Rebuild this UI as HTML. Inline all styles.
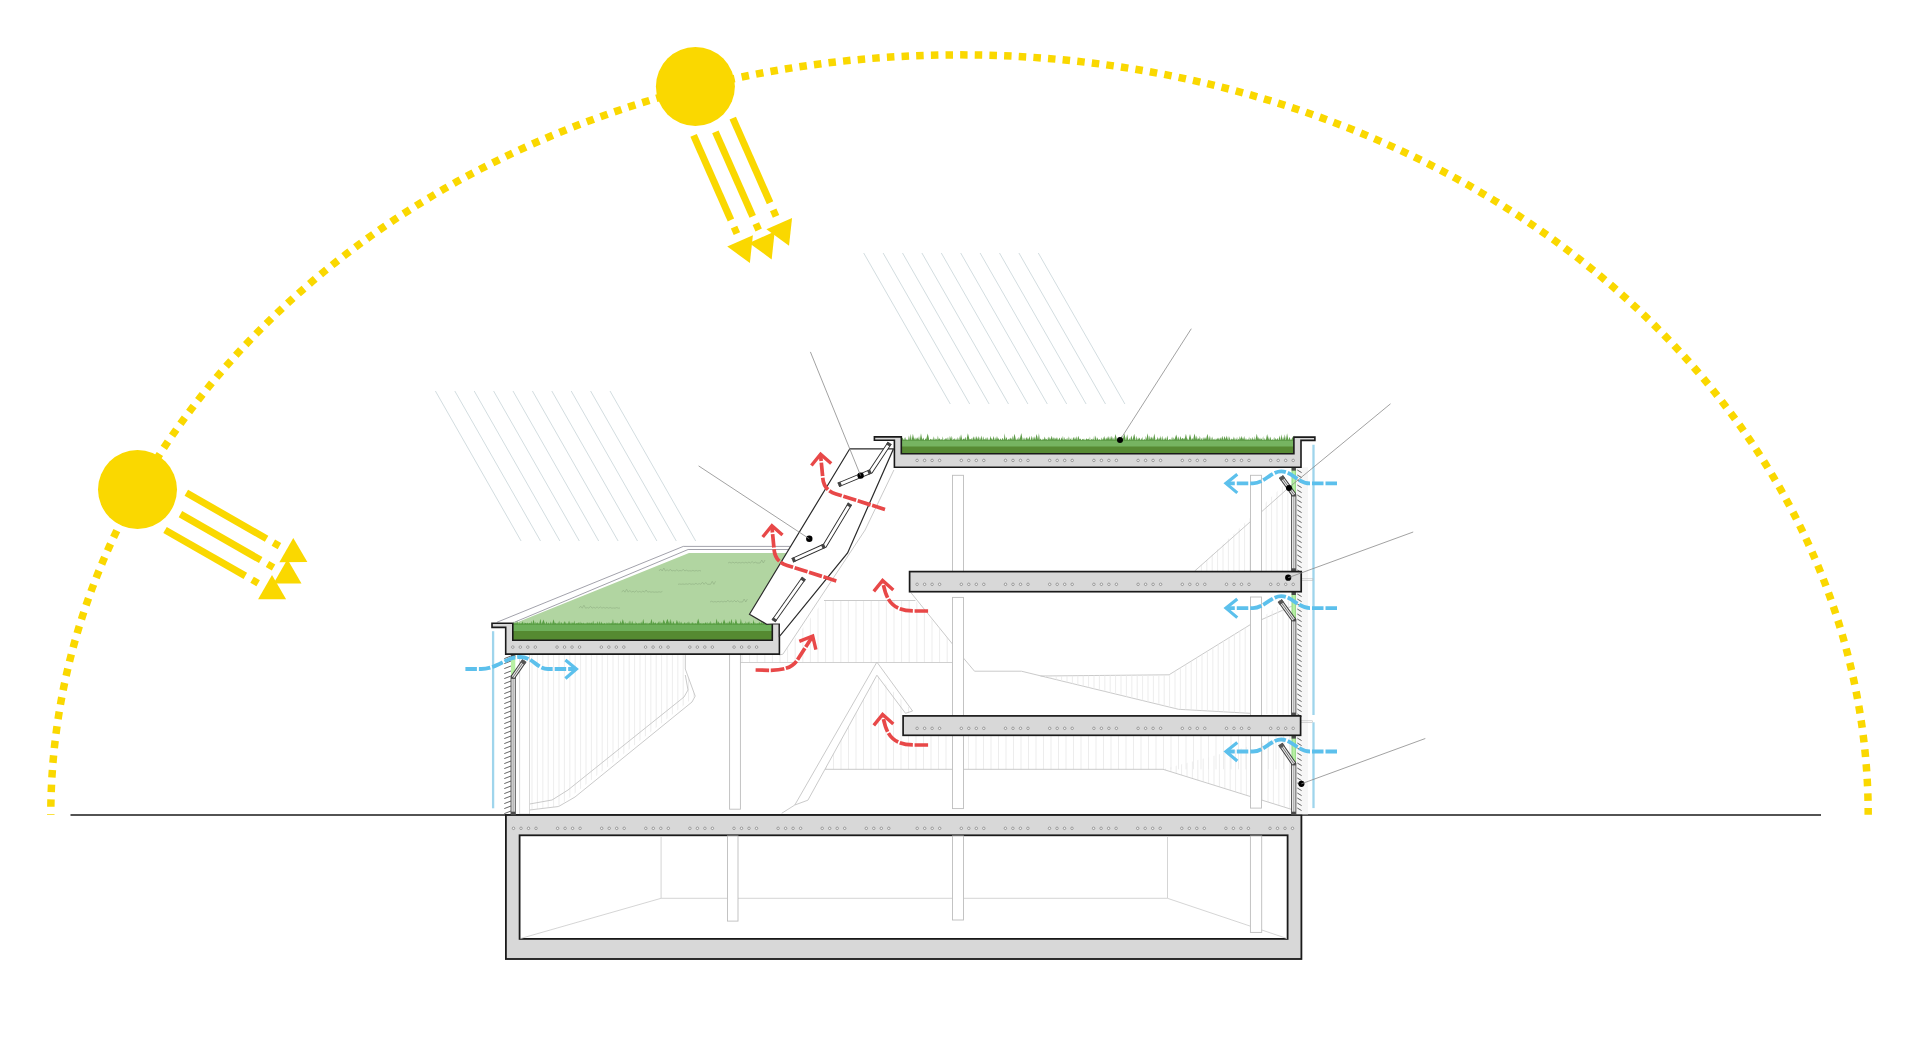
<!DOCTYPE html>
<html><head><meta charset="utf-8"><title>Section</title>
<style>html,body{margin:0;padding:0;background:#fff;overflow:hidden;font-family:"Liberation Sans",sans-serif;}svg{display:block;}</style>
</head><body>
<svg width="1920" height="1050" viewBox="0 0 1920 1050"><line x1="435.4" y1="391" x2="521.1" y2="541" stroke="#d3dde0" stroke-width="1"/>
<line x1="454.8" y1="391" x2="540.5" y2="541" stroke="#d3dde0" stroke-width="1"/>
<line x1="474.2" y1="391" x2="559.9" y2="541" stroke="#d3dde0" stroke-width="1"/>
<line x1="493.6" y1="391" x2="579.3" y2="541" stroke="#d3dde0" stroke-width="1"/>
<line x1="513" y1="391" x2="598.7" y2="541" stroke="#d3dde0" stroke-width="1"/>
<line x1="532.4" y1="391" x2="618.1" y2="541" stroke="#d3dde0" stroke-width="1"/>
<line x1="551.8" y1="391" x2="637.5" y2="541" stroke="#d3dde0" stroke-width="1"/>
<line x1="571.2" y1="391" x2="656.9" y2="541" stroke="#d3dde0" stroke-width="1"/>
<line x1="590.6" y1="391" x2="676.3" y2="541" stroke="#d3dde0" stroke-width="1"/>
<line x1="610" y1="391" x2="695.7" y2="541" stroke="#d3dde0" stroke-width="1"/>
<line x1="863.7" y1="253" x2="950.3" y2="404" stroke="#d3dde0" stroke-width="1"/>
<line x1="883.1" y1="253" x2="969.7" y2="404" stroke="#d3dde0" stroke-width="1"/>
<line x1="902.5" y1="253" x2="989.1" y2="404" stroke="#d3dde0" stroke-width="1"/>
<line x1="921.9" y1="253" x2="1008.5" y2="404" stroke="#d3dde0" stroke-width="1"/>
<line x1="941.3" y1="253" x2="1027.9" y2="404" stroke="#d3dde0" stroke-width="1"/>
<line x1="960.7" y1="253" x2="1047.3" y2="404" stroke="#d3dde0" stroke-width="1"/>
<line x1="980.1" y1="253" x2="1066.7" y2="404" stroke="#d3dde0" stroke-width="1"/>
<line x1="999.5" y1="253" x2="1086.1" y2="404" stroke="#d3dde0" stroke-width="1"/>
<line x1="1018.9" y1="253" x2="1105.5" y2="404" stroke="#d3dde0" stroke-width="1"/>
<line x1="1038.3" y1="253" x2="1124.9" y2="404" stroke="#d3dde0" stroke-width="1"/>
<path d="M 50.8 814.8 A 908.7 760.2 0 0 1 1868.2 814.8" fill="none" stroke="#FAD800" stroke-width="7.5" stroke-dasharray="7.5 7.169" stroke-dashoffset="-8.05"/>
<circle cx="695.4" cy="86.5" r="39.5" fill="#FAD800"/>
<g transform="translate(695.4 86.5) rotate(66.2)"><rect x="44" y="-24.9" width="92.5" height="7" fill="#FAD800"/><rect x="144.3" y="-24.9" width="7" height="7" fill="#FAD800"/><polygon points="183.5,-21.4 159.25,-35.4 159.25,-7.4" fill="#FAD800"/><rect x="49.5" y="-3.5" width="92.5" height="7" fill="#FAD800"/><rect x="149.8" y="-3.5" width="7" height="7" fill="#FAD800"/><polygon points="189,0 164.75,-14 164.75,14" fill="#FAD800"/><rect x="44" y="17.9" width="92.5" height="7" fill="#FAD800"/><rect x="144.3" y="17.9" width="7" height="7" fill="#FAD800"/><polygon points="183.5,21.4 159.25,7.4 159.25,35.4" fill="#FAD800"/></g>
<circle cx="137.5" cy="489.5" r="39.5" fill="#FAD800"/>
<g transform="translate(137.5 489.5) rotate(29.8)"><rect x="44" y="-24.9" width="92.5" height="7" fill="#FAD800"/><rect x="144.3" y="-24.9" width="7" height="7" fill="#FAD800"/><polygon points="183.5,-21.4 159.25,-35.4 159.25,-7.4" fill="#FAD800"/><rect x="49.5" y="-3.5" width="92.5" height="7" fill="#FAD800"/><rect x="149.8" y="-3.5" width="7" height="7" fill="#FAD800"/><polygon points="189,0 164.75,-14 164.75,14" fill="#FAD800"/><rect x="44" y="17.9" width="92.5" height="7" fill="#FAD800"/><rect x="144.3" y="17.9" width="7" height="7" fill="#FAD800"/><polygon points="183.5,21.4 159.25,7.4 159.25,35.4" fill="#FAD800"/></g>
<line x1="70.5" y1="815" x2="1821" y2="815" stroke="#1a1a1a" stroke-width="1.7"/>
<clipPath id="c1"><polygon points="530,654 685.3,654 685.3,669 695.2,696.1 558.6,806.5 529.6,810"/></clipPath>
<g clip-path="url(#c1)">
<line x1="532" y1="654" x2="532" y2="812" stroke="#e9e9e9" stroke-width="0.8"/>
<line x1="537.4" y1="654" x2="537.4" y2="812" stroke="#e9e9e9" stroke-width="0.8"/>
<line x1="542.8" y1="654" x2="542.8" y2="812" stroke="#e9e9e9" stroke-width="0.8"/>
<line x1="548.2" y1="654" x2="548.2" y2="812" stroke="#e9e9e9" stroke-width="0.8"/>
<line x1="553.6" y1="654" x2="553.6" y2="812" stroke="#e9e9e9" stroke-width="0.8"/>
<line x1="559" y1="654" x2="559" y2="812" stroke="#e9e9e9" stroke-width="0.8"/>
<line x1="564.4" y1="654" x2="564.4" y2="812" stroke="#e9e9e9" stroke-width="0.8"/>
<line x1="569.8" y1="654" x2="569.8" y2="812" stroke="#e9e9e9" stroke-width="0.8"/>
<line x1="575.2" y1="654" x2="575.2" y2="812" stroke="#e9e9e9" stroke-width="0.8"/>
<line x1="580.6" y1="654" x2="580.6" y2="812" stroke="#e9e9e9" stroke-width="0.8"/>
<line x1="586" y1="654" x2="586" y2="812" stroke="#e9e9e9" stroke-width="0.8"/>
<line x1="591.4" y1="654" x2="591.4" y2="812" stroke="#e9e9e9" stroke-width="0.8"/>
<line x1="596.8" y1="654" x2="596.8" y2="812" stroke="#e9e9e9" stroke-width="0.8"/>
<line x1="602.2" y1="654" x2="602.2" y2="812" stroke="#e9e9e9" stroke-width="0.8"/>
<line x1="607.6" y1="654" x2="607.6" y2="812" stroke="#e9e9e9" stroke-width="0.8"/>
<line x1="613" y1="654" x2="613" y2="812" stroke="#e9e9e9" stroke-width="0.8"/>
<line x1="618.4" y1="654" x2="618.4" y2="812" stroke="#e9e9e9" stroke-width="0.8"/>
<line x1="623.8" y1="654" x2="623.8" y2="812" stroke="#e9e9e9" stroke-width="0.8"/>
<line x1="629.2" y1="654" x2="629.2" y2="812" stroke="#e9e9e9" stroke-width="0.8"/>
<line x1="634.6" y1="654" x2="634.6" y2="812" stroke="#e9e9e9" stroke-width="0.8"/>
<line x1="640" y1="654" x2="640" y2="812" stroke="#e9e9e9" stroke-width="0.8"/>
<line x1="645.4" y1="654" x2="645.4" y2="812" stroke="#e9e9e9" stroke-width="0.8"/>
<line x1="650.8" y1="654" x2="650.8" y2="812" stroke="#e9e9e9" stroke-width="0.8"/>
<line x1="656.2" y1="654" x2="656.2" y2="812" stroke="#e9e9e9" stroke-width="0.8"/>
<line x1="661.6" y1="654" x2="661.6" y2="812" stroke="#e9e9e9" stroke-width="0.8"/>
<line x1="667" y1="654" x2="667" y2="812" stroke="#e9e9e9" stroke-width="0.8"/>
<line x1="672.4" y1="654" x2="672.4" y2="812" stroke="#e9e9e9" stroke-width="0.8"/>
<line x1="677.8" y1="654" x2="677.8" y2="812" stroke="#e9e9e9" stroke-width="0.8"/>
<line x1="683.2" y1="654" x2="683.2" y2="812" stroke="#e9e9e9" stroke-width="0.8"/>
<line x1="688.6" y1="654" x2="688.6" y2="812" stroke="#e9e9e9" stroke-width="0.8"/>
<line x1="694" y1="654" x2="694" y2="812" stroke="#e9e9e9" stroke-width="0.8"/>
<line x1="699.4" y1="654" x2="699.4" y2="812" stroke="#e9e9e9" stroke-width="0.8"/>
</g>
<polyline points="685.3,655 685.3,669 695.2,696.1 692,702 575,797 558.6,806.5 529.6,810" fill="none" stroke="#c4c4c4" stroke-width="0.9"/>
<polyline points="685.3,675 688,690 684,697 568,790 552,800 529.6,804" fill="none" stroke="#c4c4c4" stroke-width="0.9"/>
<clipPath id="c2"><polygon points="824,600.5 915.4,600.5 952.7,644.3 952.7,662.5 740,662.5 740,654.2 782.9,654.2"/></clipPath>
<g clip-path="url(#c2)">
<line x1="742" y1="600" x2="742" y2="663" stroke="#e9e9e9" stroke-width="0.8"/>
<line x1="749.6" y1="600" x2="749.6" y2="663" stroke="#e9e9e9" stroke-width="0.8"/>
<line x1="757.2" y1="600" x2="757.2" y2="663" stroke="#e9e9e9" stroke-width="0.8"/>
<line x1="764.8" y1="600" x2="764.8" y2="663" stroke="#e9e9e9" stroke-width="0.8"/>
<line x1="772.4" y1="600" x2="772.4" y2="663" stroke="#e9e9e9" stroke-width="0.8"/>
<line x1="780" y1="600" x2="780" y2="663" stroke="#e9e9e9" stroke-width="0.8"/>
<line x1="787.6" y1="600" x2="787.6" y2="663" stroke="#e9e9e9" stroke-width="0.8"/>
<line x1="795.2" y1="600" x2="795.2" y2="663" stroke="#e9e9e9" stroke-width="0.8"/>
<line x1="802.8" y1="600" x2="802.8" y2="663" stroke="#e9e9e9" stroke-width="0.8"/>
<line x1="810.4" y1="600" x2="810.4" y2="663" stroke="#e9e9e9" stroke-width="0.8"/>
<line x1="818" y1="600" x2="818" y2="663" stroke="#e9e9e9" stroke-width="0.8"/>
<line x1="825.6" y1="600" x2="825.6" y2="663" stroke="#e9e9e9" stroke-width="0.8"/>
<line x1="833.2" y1="600" x2="833.2" y2="663" stroke="#e9e9e9" stroke-width="0.8"/>
<line x1="840.8" y1="600" x2="840.8" y2="663" stroke="#e9e9e9" stroke-width="0.8"/>
<line x1="848.4" y1="600" x2="848.4" y2="663" stroke="#e9e9e9" stroke-width="0.8"/>
<line x1="856" y1="600" x2="856" y2="663" stroke="#e9e9e9" stroke-width="0.8"/>
<line x1="863.6" y1="600" x2="863.6" y2="663" stroke="#e9e9e9" stroke-width="0.8"/>
<line x1="871.2" y1="600" x2="871.2" y2="663" stroke="#e9e9e9" stroke-width="0.8"/>
<line x1="878.8" y1="600" x2="878.8" y2="663" stroke="#e9e9e9" stroke-width="0.8"/>
<line x1="886.4" y1="600" x2="886.4" y2="663" stroke="#e9e9e9" stroke-width="0.8"/>
<line x1="894" y1="600" x2="894" y2="663" stroke="#e9e9e9" stroke-width="0.8"/>
<line x1="901.6" y1="600" x2="901.6" y2="663" stroke="#e9e9e9" stroke-width="0.8"/>
<line x1="909.2" y1="600" x2="909.2" y2="663" stroke="#e9e9e9" stroke-width="0.8"/>
<line x1="916.8" y1="600" x2="916.8" y2="663" stroke="#e9e9e9" stroke-width="0.8"/>
<line x1="924.4" y1="600" x2="924.4" y2="663" stroke="#e9e9e9" stroke-width="0.8"/>
<line x1="932" y1="600" x2="932" y2="663" stroke="#e9e9e9" stroke-width="0.8"/>
<line x1="939.6" y1="600" x2="939.6" y2="663" stroke="#e9e9e9" stroke-width="0.8"/>
<line x1="947.2" y1="600" x2="947.2" y2="663" stroke="#e9e9e9" stroke-width="0.8"/>
</g>
<polyline points="824,600.5 915.4,600.5" fill="none" stroke="#c4c4c4" stroke-width="0.9"/>
<polyline points="893.9,470 865.1,530 782.9,654.2 779,655" fill="none" stroke="#c4c4c4" stroke-width="0.9"/>
<polyline points="910.8,592.5 952.7,644.3" fill="none" stroke="#c4c4c4" stroke-width="0.9"/>
<line x1="740" y1="662.5" x2="953" y2="662.5" stroke="#c4c4c4" stroke-width="0.8"/>
<polyline points="963.4,658 974.5,671.2 1021.4,671.2 1178.6,709.3 1250,713.3" fill="none" stroke="#c4c4c4" stroke-width="0.9"/>
<polyline points="1040.5,676 1169,674.8 1250,624.8 1292.9,605.7" fill="none" stroke="#c4c4c4" stroke-width="0.9"/>
<clipPath id="c3"><polygon points="1040.5,676 1169,674.8 1250,624.8 1292,598 1292,715 1250,713.3 1178.6,709.3"/></clipPath>
<g clip-path="url(#c3)">
<line x1="1040" y1="595" x2="1040" y2="716" stroke="#e9e9e9" stroke-width="0.8"/>
<line x1="1045.4" y1="595" x2="1045.4" y2="716" stroke="#e9e9e9" stroke-width="0.8"/>
<line x1="1050.8" y1="595" x2="1050.8" y2="716" stroke="#e9e9e9" stroke-width="0.8"/>
<line x1="1056.2" y1="595" x2="1056.2" y2="716" stroke="#e9e9e9" stroke-width="0.8"/>
<line x1="1061.6" y1="595" x2="1061.6" y2="716" stroke="#e9e9e9" stroke-width="0.8"/>
<line x1="1067" y1="595" x2="1067" y2="716" stroke="#e9e9e9" stroke-width="0.8"/>
<line x1="1072.4" y1="595" x2="1072.4" y2="716" stroke="#e9e9e9" stroke-width="0.8"/>
<line x1="1077.8" y1="595" x2="1077.8" y2="716" stroke="#e9e9e9" stroke-width="0.8"/>
<line x1="1083.2" y1="595" x2="1083.2" y2="716" stroke="#e9e9e9" stroke-width="0.8"/>
<line x1="1088.6" y1="595" x2="1088.6" y2="716" stroke="#e9e9e9" stroke-width="0.8"/>
<line x1="1094" y1="595" x2="1094" y2="716" stroke="#e9e9e9" stroke-width="0.8"/>
<line x1="1099.4" y1="595" x2="1099.4" y2="716" stroke="#e9e9e9" stroke-width="0.8"/>
<line x1="1104.8" y1="595" x2="1104.8" y2="716" stroke="#e9e9e9" stroke-width="0.8"/>
<line x1="1110.2" y1="595" x2="1110.2" y2="716" stroke="#e9e9e9" stroke-width="0.8"/>
<line x1="1115.6" y1="595" x2="1115.6" y2="716" stroke="#e9e9e9" stroke-width="0.8"/>
<line x1="1121" y1="595" x2="1121" y2="716" stroke="#e9e9e9" stroke-width="0.8"/>
<line x1="1126.4" y1="595" x2="1126.4" y2="716" stroke="#e9e9e9" stroke-width="0.8"/>
<line x1="1131.8" y1="595" x2="1131.8" y2="716" stroke="#e9e9e9" stroke-width="0.8"/>
<line x1="1137.2" y1="595" x2="1137.2" y2="716" stroke="#e9e9e9" stroke-width="0.8"/>
<line x1="1142.6" y1="595" x2="1142.6" y2="716" stroke="#e9e9e9" stroke-width="0.8"/>
<line x1="1148" y1="595" x2="1148" y2="716" stroke="#e9e9e9" stroke-width="0.8"/>
<line x1="1153.4" y1="595" x2="1153.4" y2="716" stroke="#e9e9e9" stroke-width="0.8"/>
<line x1="1158.8" y1="595" x2="1158.8" y2="716" stroke="#e9e9e9" stroke-width="0.8"/>
<line x1="1164.2" y1="595" x2="1164.2" y2="716" stroke="#e9e9e9" stroke-width="0.8"/>
<line x1="1169.6" y1="595" x2="1169.6" y2="716" stroke="#e9e9e9" stroke-width="0.8"/>
<line x1="1175" y1="595" x2="1175" y2="716" stroke="#e9e9e9" stroke-width="0.8"/>
<line x1="1180.4" y1="595" x2="1180.4" y2="716" stroke="#e9e9e9" stroke-width="0.8"/>
<line x1="1185.8" y1="595" x2="1185.8" y2="716" stroke="#e9e9e9" stroke-width="0.8"/>
<line x1="1191.2" y1="595" x2="1191.2" y2="716" stroke="#e9e9e9" stroke-width="0.8"/>
<line x1="1196.6" y1="595" x2="1196.6" y2="716" stroke="#e9e9e9" stroke-width="0.8"/>
<line x1="1202" y1="595" x2="1202" y2="716" stroke="#e9e9e9" stroke-width="0.8"/>
<line x1="1207.4" y1="595" x2="1207.4" y2="716" stroke="#e9e9e9" stroke-width="0.8"/>
<line x1="1212.8" y1="595" x2="1212.8" y2="716" stroke="#e9e9e9" stroke-width="0.8"/>
<line x1="1218.2" y1="595" x2="1218.2" y2="716" stroke="#e9e9e9" stroke-width="0.8"/>
<line x1="1223.6" y1="595" x2="1223.6" y2="716" stroke="#e9e9e9" stroke-width="0.8"/>
<line x1="1229" y1="595" x2="1229" y2="716" stroke="#e9e9e9" stroke-width="0.8"/>
<line x1="1234.4" y1="595" x2="1234.4" y2="716" stroke="#e9e9e9" stroke-width="0.8"/>
<line x1="1239.8" y1="595" x2="1239.8" y2="716" stroke="#e9e9e9" stroke-width="0.8"/>
<line x1="1245.2" y1="595" x2="1245.2" y2="716" stroke="#e9e9e9" stroke-width="0.8"/>
<line x1="1250.6" y1="595" x2="1250.6" y2="716" stroke="#e9e9e9" stroke-width="0.8"/>
<line x1="1256" y1="595" x2="1256" y2="716" stroke="#e9e9e9" stroke-width="0.8"/>
<line x1="1261.4" y1="595" x2="1261.4" y2="716" stroke="#e9e9e9" stroke-width="0.8"/>
<line x1="1266.8" y1="595" x2="1266.8" y2="716" stroke="#e9e9e9" stroke-width="0.8"/>
<line x1="1272.2" y1="595" x2="1272.2" y2="716" stroke="#e9e9e9" stroke-width="0.8"/>
<line x1="1277.6" y1="595" x2="1277.6" y2="716" stroke="#e9e9e9" stroke-width="0.8"/>
<line x1="1283" y1="595" x2="1283" y2="716" stroke="#e9e9e9" stroke-width="0.8"/>
<line x1="1288.4" y1="595" x2="1288.4" y2="716" stroke="#e9e9e9" stroke-width="0.8"/>
</g>
<clipPath id="c4"><polygon points="876.9,675.2 912.6,711 903,716 903,735.3 1292,735.3 1292,769.3 1163,769.3 825,769.3"/></clipPath>
<g clip-path="url(#c4)">
<line x1="826" y1="674" x2="826" y2="770" stroke="#e9e9e9" stroke-width="0.8"/>
<line x1="833.5" y1="674" x2="833.5" y2="770" stroke="#e9e9e9" stroke-width="0.8"/>
<line x1="841" y1="674" x2="841" y2="770" stroke="#e9e9e9" stroke-width="0.8"/>
<line x1="848.5" y1="674" x2="848.5" y2="770" stroke="#e9e9e9" stroke-width="0.8"/>
<line x1="856" y1="674" x2="856" y2="770" stroke="#e9e9e9" stroke-width="0.8"/>
<line x1="863.5" y1="674" x2="863.5" y2="770" stroke="#e9e9e9" stroke-width="0.8"/>
<line x1="871" y1="674" x2="871" y2="770" stroke="#e9e9e9" stroke-width="0.8"/>
<line x1="878.5" y1="674" x2="878.5" y2="770" stroke="#e9e9e9" stroke-width="0.8"/>
<line x1="886" y1="674" x2="886" y2="770" stroke="#e9e9e9" stroke-width="0.8"/>
<line x1="893.5" y1="674" x2="893.5" y2="770" stroke="#e9e9e9" stroke-width="0.8"/>
<line x1="901" y1="674" x2="901" y2="770" stroke="#e9e9e9" stroke-width="0.8"/>
<line x1="908.5" y1="674" x2="908.5" y2="770" stroke="#e9e9e9" stroke-width="0.8"/>
<line x1="916" y1="674" x2="916" y2="770" stroke="#e9e9e9" stroke-width="0.8"/>
<line x1="923.5" y1="674" x2="923.5" y2="770" stroke="#e9e9e9" stroke-width="0.8"/>
<line x1="931" y1="674" x2="931" y2="770" stroke="#e9e9e9" stroke-width="0.8"/>
<line x1="938.5" y1="674" x2="938.5" y2="770" stroke="#e9e9e9" stroke-width="0.8"/>
<line x1="946" y1="674" x2="946" y2="770" stroke="#e9e9e9" stroke-width="0.8"/>
<line x1="953.5" y1="674" x2="953.5" y2="770" stroke="#e9e9e9" stroke-width="0.8"/>
<line x1="961" y1="674" x2="961" y2="770" stroke="#e9e9e9" stroke-width="0.8"/>
<line x1="968.5" y1="674" x2="968.5" y2="770" stroke="#e9e9e9" stroke-width="0.8"/>
<line x1="976" y1="674" x2="976" y2="770" stroke="#e9e9e9" stroke-width="0.8"/>
<line x1="983.5" y1="674" x2="983.5" y2="770" stroke="#e9e9e9" stroke-width="0.8"/>
<line x1="991" y1="674" x2="991" y2="770" stroke="#e9e9e9" stroke-width="0.8"/>
<line x1="998.5" y1="674" x2="998.5" y2="770" stroke="#e9e9e9" stroke-width="0.8"/>
<line x1="1006" y1="674" x2="1006" y2="770" stroke="#e9e9e9" stroke-width="0.8"/>
<line x1="1013.5" y1="674" x2="1013.5" y2="770" stroke="#e9e9e9" stroke-width="0.8"/>
<line x1="1021" y1="674" x2="1021" y2="770" stroke="#e9e9e9" stroke-width="0.8"/>
<line x1="1028.5" y1="674" x2="1028.5" y2="770" stroke="#e9e9e9" stroke-width="0.8"/>
<line x1="1036" y1="674" x2="1036" y2="770" stroke="#e9e9e9" stroke-width="0.8"/>
<line x1="1043.5" y1="674" x2="1043.5" y2="770" stroke="#e9e9e9" stroke-width="0.8"/>
<line x1="1051" y1="674" x2="1051" y2="770" stroke="#e9e9e9" stroke-width="0.8"/>
<line x1="1058.5" y1="674" x2="1058.5" y2="770" stroke="#e9e9e9" stroke-width="0.8"/>
<line x1="1066" y1="674" x2="1066" y2="770" stroke="#e9e9e9" stroke-width="0.8"/>
<line x1="1073.5" y1="674" x2="1073.5" y2="770" stroke="#e9e9e9" stroke-width="0.8"/>
<line x1="1081" y1="674" x2="1081" y2="770" stroke="#e9e9e9" stroke-width="0.8"/>
<line x1="1088.5" y1="674" x2="1088.5" y2="770" stroke="#e9e9e9" stroke-width="0.8"/>
<line x1="1096" y1="674" x2="1096" y2="770" stroke="#e9e9e9" stroke-width="0.8"/>
<line x1="1103.5" y1="674" x2="1103.5" y2="770" stroke="#e9e9e9" stroke-width="0.8"/>
<line x1="1111" y1="674" x2="1111" y2="770" stroke="#e9e9e9" stroke-width="0.8"/>
<line x1="1118.5" y1="674" x2="1118.5" y2="770" stroke="#e9e9e9" stroke-width="0.8"/>
<line x1="1126" y1="674" x2="1126" y2="770" stroke="#e9e9e9" stroke-width="0.8"/>
<line x1="1133.5" y1="674" x2="1133.5" y2="770" stroke="#e9e9e9" stroke-width="0.8"/>
<line x1="1141" y1="674" x2="1141" y2="770" stroke="#e9e9e9" stroke-width="0.8"/>
<line x1="1148.5" y1="674" x2="1148.5" y2="770" stroke="#e9e9e9" stroke-width="0.8"/>
<line x1="1156" y1="674" x2="1156" y2="770" stroke="#e9e9e9" stroke-width="0.8"/>
<line x1="1163.5" y1="674" x2="1163.5" y2="770" stroke="#e9e9e9" stroke-width="0.8"/>
<line x1="1171" y1="674" x2="1171" y2="770" stroke="#e9e9e9" stroke-width="0.8"/>
<line x1="1178.5" y1="674" x2="1178.5" y2="770" stroke="#e9e9e9" stroke-width="0.8"/>
<line x1="1186" y1="674" x2="1186" y2="770" stroke="#e9e9e9" stroke-width="0.8"/>
<line x1="1193.5" y1="674" x2="1193.5" y2="770" stroke="#e9e9e9" stroke-width="0.8"/>
<line x1="1201" y1="674" x2="1201" y2="770" stroke="#e9e9e9" stroke-width="0.8"/>
<line x1="1208.5" y1="674" x2="1208.5" y2="770" stroke="#e9e9e9" stroke-width="0.8"/>
<line x1="1216" y1="674" x2="1216" y2="770" stroke="#e9e9e9" stroke-width="0.8"/>
<line x1="1223.5" y1="674" x2="1223.5" y2="770" stroke="#e9e9e9" stroke-width="0.8"/>
<line x1="1231" y1="674" x2="1231" y2="770" stroke="#e9e9e9" stroke-width="0.8"/>
<line x1="1238.5" y1="674" x2="1238.5" y2="770" stroke="#e9e9e9" stroke-width="0.8"/>
<line x1="1246" y1="674" x2="1246" y2="770" stroke="#e9e9e9" stroke-width="0.8"/>
<line x1="1253.5" y1="674" x2="1253.5" y2="770" stroke="#e9e9e9" stroke-width="0.8"/>
<line x1="1261" y1="674" x2="1261" y2="770" stroke="#e9e9e9" stroke-width="0.8"/>
<line x1="1268.5" y1="674" x2="1268.5" y2="770" stroke="#e9e9e9" stroke-width="0.8"/>
<line x1="1276" y1="674" x2="1276" y2="770" stroke="#e9e9e9" stroke-width="0.8"/>
<line x1="1283.5" y1="674" x2="1283.5" y2="770" stroke="#e9e9e9" stroke-width="0.8"/>
<line x1="1291" y1="674" x2="1291" y2="770" stroke="#e9e9e9" stroke-width="0.8"/>
</g>
<polyline points="781.7,813.3 794.8,805 876.9,662.1 912.6,711 905.5,713.3 876.9,675.2 807.9,800.2 794.8,805" fill="none" stroke="#c4c4c4" stroke-width="0.9"/>
<clipPath id="c5"><polygon points="1195.2,571.2 1292.9,476 1292.9,571.2"/></clipPath>
<g clip-path="url(#c5)">
<line x1="1196" y1="470" x2="1196" y2="572" stroke="#e9e9e9" stroke-width="0.8"/>
<line x1="1201.4" y1="470" x2="1201.4" y2="572" stroke="#e9e9e9" stroke-width="0.8"/>
<line x1="1206.8" y1="470" x2="1206.8" y2="572" stroke="#e9e9e9" stroke-width="0.8"/>
<line x1="1212.2" y1="470" x2="1212.2" y2="572" stroke="#e9e9e9" stroke-width="0.8"/>
<line x1="1217.6" y1="470" x2="1217.6" y2="572" stroke="#e9e9e9" stroke-width="0.8"/>
<line x1="1223" y1="470" x2="1223" y2="572" stroke="#e9e9e9" stroke-width="0.8"/>
<line x1="1228.4" y1="470" x2="1228.4" y2="572" stroke="#e9e9e9" stroke-width="0.8"/>
<line x1="1233.8" y1="470" x2="1233.8" y2="572" stroke="#e9e9e9" stroke-width="0.8"/>
<line x1="1239.2" y1="470" x2="1239.2" y2="572" stroke="#e9e9e9" stroke-width="0.8"/>
<line x1="1244.6" y1="470" x2="1244.6" y2="572" stroke="#e9e9e9" stroke-width="0.8"/>
<line x1="1250" y1="470" x2="1250" y2="572" stroke="#e9e9e9" stroke-width="0.8"/>
<line x1="1255.4" y1="470" x2="1255.4" y2="572" stroke="#e9e9e9" stroke-width="0.8"/>
<line x1="1260.8" y1="470" x2="1260.8" y2="572" stroke="#e9e9e9" stroke-width="0.8"/>
<line x1="1266.2" y1="470" x2="1266.2" y2="572" stroke="#e9e9e9" stroke-width="0.8"/>
<line x1="1271.6" y1="470" x2="1271.6" y2="572" stroke="#e9e9e9" stroke-width="0.8"/>
<line x1="1277" y1="470" x2="1277" y2="572" stroke="#e9e9e9" stroke-width="0.8"/>
<line x1="1282.4" y1="470" x2="1282.4" y2="572" stroke="#e9e9e9" stroke-width="0.8"/>
<line x1="1287.8" y1="470" x2="1287.8" y2="572" stroke="#e9e9e9" stroke-width="0.8"/>
</g>
<line x1="1288.7" y1="487.7" x2="1194.7" y2="571" stroke="#c4c4c4" stroke-width="0.9"/>
<clipPath id="c6"><polygon points="1163,769.3 1292,735 1292,809.5"/></clipPath>
<g clip-path="url(#c6)">
<line x1="1160" y1="735" x2="1160" y2="812" stroke="#e9e9e9" stroke-width="0.8"/>
<line x1="1165.4" y1="735" x2="1165.4" y2="812" stroke="#e9e9e9" stroke-width="0.8"/>
<line x1="1170.8" y1="735" x2="1170.8" y2="812" stroke="#e9e9e9" stroke-width="0.8"/>
<line x1="1176.2" y1="735" x2="1176.2" y2="812" stroke="#e9e9e9" stroke-width="0.8"/>
<line x1="1181.6" y1="735" x2="1181.6" y2="812" stroke="#e9e9e9" stroke-width="0.8"/>
<line x1="1187" y1="735" x2="1187" y2="812" stroke="#e9e9e9" stroke-width="0.8"/>
<line x1="1192.4" y1="735" x2="1192.4" y2="812" stroke="#e9e9e9" stroke-width="0.8"/>
<line x1="1197.8" y1="735" x2="1197.8" y2="812" stroke="#e9e9e9" stroke-width="0.8"/>
<line x1="1203.2" y1="735" x2="1203.2" y2="812" stroke="#e9e9e9" stroke-width="0.8"/>
<line x1="1208.6" y1="735" x2="1208.6" y2="812" stroke="#e9e9e9" stroke-width="0.8"/>
<line x1="1214" y1="735" x2="1214" y2="812" stroke="#e9e9e9" stroke-width="0.8"/>
<line x1="1219.4" y1="735" x2="1219.4" y2="812" stroke="#e9e9e9" stroke-width="0.8"/>
<line x1="1224.8" y1="735" x2="1224.8" y2="812" stroke="#e9e9e9" stroke-width="0.8"/>
<line x1="1230.2" y1="735" x2="1230.2" y2="812" stroke="#e9e9e9" stroke-width="0.8"/>
<line x1="1235.6" y1="735" x2="1235.6" y2="812" stroke="#e9e9e9" stroke-width="0.8"/>
<line x1="1241" y1="735" x2="1241" y2="812" stroke="#e9e9e9" stroke-width="0.8"/>
<line x1="1246.4" y1="735" x2="1246.4" y2="812" stroke="#e9e9e9" stroke-width="0.8"/>
<line x1="1251.8" y1="735" x2="1251.8" y2="812" stroke="#e9e9e9" stroke-width="0.8"/>
<line x1="1257.2" y1="735" x2="1257.2" y2="812" stroke="#e9e9e9" stroke-width="0.8"/>
<line x1="1262.6" y1="735" x2="1262.6" y2="812" stroke="#e9e9e9" stroke-width="0.8"/>
<line x1="1268" y1="735" x2="1268" y2="812" stroke="#e9e9e9" stroke-width="0.8"/>
<line x1="1273.4" y1="735" x2="1273.4" y2="812" stroke="#e9e9e9" stroke-width="0.8"/>
<line x1="1278.8" y1="735" x2="1278.8" y2="812" stroke="#e9e9e9" stroke-width="0.8"/>
<line x1="1284.2" y1="735" x2="1284.2" y2="812" stroke="#e9e9e9" stroke-width="0.8"/>
<line x1="1289.6" y1="735" x2="1289.6" y2="812" stroke="#e9e9e9" stroke-width="0.8"/>
</g>
<polyline points="825,769.3 1163,769.3 1292,809.5" fill="none" stroke="#c4c4c4" stroke-width="0.9"/>
<rect x="952.5" y="475.3" width="11" height="96.3" fill="#fff" stroke="#bdbdbd" stroke-width="0.9"/>
<rect x="952.5" y="597.4" width="11" height="118.5" fill="#fff" stroke="#bdbdbd" stroke-width="0.9"/>
<rect x="952.5" y="735.3" width="11" height="73.3" fill="#fff" stroke="#bdbdbd" stroke-width="0.9"/>
<rect x="952.5" y="835.3" width="11" height="84.7" fill="#fff" stroke="#bdbdbd" stroke-width="0.9"/>
<rect x="1250.5" y="475.3" width="11" height="96.3" fill="#fff" stroke="#bdbdbd" stroke-width="0.9"/>
<rect x="1250.5" y="597" width="11" height="118.9" fill="#fff" stroke="#bdbdbd" stroke-width="0.9"/>
<rect x="1250.5" y="735.3" width="11" height="72.8" fill="#fff" stroke="#bdbdbd" stroke-width="0.9"/>
<rect x="1250.4" y="835.3" width="11.3" height="97.1" fill="#fff" stroke="#bdbdbd" stroke-width="0.9"/>
<rect x="729.6" y="654.1" width="10.8" height="155.1" fill="#fff" stroke="#bdbdbd" stroke-width="0.9"/>
<rect x="727.5" y="835.3" width="10.5" height="85.8" fill="#fff" stroke="#bdbdbd" stroke-width="0.9"/>
<rect x="519.7" y="654.1" width="9.9" height="160" fill="none" stroke="#cfcfcf" stroke-width="0.8"/>
<rect x="505.9" y="815" width="795.5" height="144" fill="#d8d8d8" stroke="#1a1a1a" stroke-width="1.8"/>
<rect x="519.6" y="835.3" width="768" height="103.6" fill="#fff" stroke="#1a1a1a" stroke-width="1.8"/>
<polyline points="661.1,836 661.1,898.3 1167.5,898.3 1167.5,836" fill="none" stroke="#d0d0d0" stroke-width="0.9"/>
<line x1="661.1" y1="898.3" x2="520.5" y2="938.5" stroke="#d0d0d0" stroke-width="0.9"/>
<line x1="1167.5" y1="898.3" x2="1287" y2="938.5" stroke="#d0d0d0" stroke-width="0.9"/>
<rect x="727.5" y="836" width="10.5" height="85.1" fill="#fff" stroke="#bdbdbd" stroke-width="0.9"/>
<rect x="952.5" y="836" width="11" height="84" fill="#fff" stroke="#bdbdbd" stroke-width="0.9"/>
<rect x="1250.4" y="836" width="11.3" height="96.4" fill="#fff" stroke="#bdbdbd" stroke-width="0.9"/>
<circle cx="513.5" cy="828.3" r="1.25" fill="#f2f2f2" stroke="#7a7a7a" stroke-width="0.7"/>
<circle cx="521" cy="828.3" r="1.25" fill="#f2f2f2" stroke="#7a7a7a" stroke-width="0.7"/>
<circle cx="528.5" cy="828.3" r="1.25" fill="#f2f2f2" stroke="#7a7a7a" stroke-width="0.7"/>
<circle cx="536" cy="828.3" r="1.25" fill="#f2f2f2" stroke="#7a7a7a" stroke-width="0.7"/>
<circle cx="557.6" cy="828.3" r="1.25" fill="#f2f2f2" stroke="#7a7a7a" stroke-width="0.7"/>
<circle cx="565.1" cy="828.3" r="1.25" fill="#f2f2f2" stroke="#7a7a7a" stroke-width="0.7"/>
<circle cx="572.6" cy="828.3" r="1.25" fill="#f2f2f2" stroke="#7a7a7a" stroke-width="0.7"/>
<circle cx="580.1" cy="828.3" r="1.25" fill="#f2f2f2" stroke="#7a7a7a" stroke-width="0.7"/>
<circle cx="601.7" cy="828.3" r="1.25" fill="#f2f2f2" stroke="#7a7a7a" stroke-width="0.7"/>
<circle cx="609.2" cy="828.3" r="1.25" fill="#f2f2f2" stroke="#7a7a7a" stroke-width="0.7"/>
<circle cx="616.7" cy="828.3" r="1.25" fill="#f2f2f2" stroke="#7a7a7a" stroke-width="0.7"/>
<circle cx="624.2" cy="828.3" r="1.25" fill="#f2f2f2" stroke="#7a7a7a" stroke-width="0.7"/>
<circle cx="645.8" cy="828.3" r="1.25" fill="#f2f2f2" stroke="#7a7a7a" stroke-width="0.7"/>
<circle cx="653.3" cy="828.3" r="1.25" fill="#f2f2f2" stroke="#7a7a7a" stroke-width="0.7"/>
<circle cx="660.8" cy="828.3" r="1.25" fill="#f2f2f2" stroke="#7a7a7a" stroke-width="0.7"/>
<circle cx="668.3" cy="828.3" r="1.25" fill="#f2f2f2" stroke="#7a7a7a" stroke-width="0.7"/>
<circle cx="689.9" cy="828.3" r="1.25" fill="#f2f2f2" stroke="#7a7a7a" stroke-width="0.7"/>
<circle cx="697.4" cy="828.3" r="1.25" fill="#f2f2f2" stroke="#7a7a7a" stroke-width="0.7"/>
<circle cx="704.9" cy="828.3" r="1.25" fill="#f2f2f2" stroke="#7a7a7a" stroke-width="0.7"/>
<circle cx="712.4" cy="828.3" r="1.25" fill="#f2f2f2" stroke="#7a7a7a" stroke-width="0.7"/>
<circle cx="734" cy="828.3" r="1.25" fill="#f2f2f2" stroke="#7a7a7a" stroke-width="0.7"/>
<circle cx="741.5" cy="828.3" r="1.25" fill="#f2f2f2" stroke="#7a7a7a" stroke-width="0.7"/>
<circle cx="749" cy="828.3" r="1.25" fill="#f2f2f2" stroke="#7a7a7a" stroke-width="0.7"/>
<circle cx="756.5" cy="828.3" r="1.25" fill="#f2f2f2" stroke="#7a7a7a" stroke-width="0.7"/>
<circle cx="778.1" cy="828.3" r="1.25" fill="#f2f2f2" stroke="#7a7a7a" stroke-width="0.7"/>
<circle cx="785.6" cy="828.3" r="1.25" fill="#f2f2f2" stroke="#7a7a7a" stroke-width="0.7"/>
<circle cx="793.1" cy="828.3" r="1.25" fill="#f2f2f2" stroke="#7a7a7a" stroke-width="0.7"/>
<circle cx="800.6" cy="828.3" r="1.25" fill="#f2f2f2" stroke="#7a7a7a" stroke-width="0.7"/>
<circle cx="822.2" cy="828.3" r="1.25" fill="#f2f2f2" stroke="#7a7a7a" stroke-width="0.7"/>
<circle cx="829.7" cy="828.3" r="1.25" fill="#f2f2f2" stroke="#7a7a7a" stroke-width="0.7"/>
<circle cx="837.2" cy="828.3" r="1.25" fill="#f2f2f2" stroke="#7a7a7a" stroke-width="0.7"/>
<circle cx="844.7" cy="828.3" r="1.25" fill="#f2f2f2" stroke="#7a7a7a" stroke-width="0.7"/>
<circle cx="866.3" cy="828.3" r="1.25" fill="#f2f2f2" stroke="#7a7a7a" stroke-width="0.7"/>
<circle cx="873.8" cy="828.3" r="1.25" fill="#f2f2f2" stroke="#7a7a7a" stroke-width="0.7"/>
<circle cx="881.3" cy="828.3" r="1.25" fill="#f2f2f2" stroke="#7a7a7a" stroke-width="0.7"/>
<circle cx="888.8" cy="828.3" r="1.25" fill="#f2f2f2" stroke="#7a7a7a" stroke-width="0.7"/>
<circle cx="917.2" cy="828.3" r="1.25" fill="#f2f2f2" stroke="#7a7a7a" stroke-width="0.7"/>
<circle cx="924.7" cy="828.3" r="1.25" fill="#f2f2f2" stroke="#7a7a7a" stroke-width="0.7"/>
<circle cx="932.2" cy="828.3" r="1.25" fill="#f2f2f2" stroke="#7a7a7a" stroke-width="0.7"/>
<circle cx="939.7" cy="828.3" r="1.25" fill="#f2f2f2" stroke="#7a7a7a" stroke-width="0.7"/>
<circle cx="961.3" cy="828.3" r="1.25" fill="#f2f2f2" stroke="#7a7a7a" stroke-width="0.7"/>
<circle cx="968.8" cy="828.3" r="1.25" fill="#f2f2f2" stroke="#7a7a7a" stroke-width="0.7"/>
<circle cx="976.3" cy="828.3" r="1.25" fill="#f2f2f2" stroke="#7a7a7a" stroke-width="0.7"/>
<circle cx="983.8" cy="828.3" r="1.25" fill="#f2f2f2" stroke="#7a7a7a" stroke-width="0.7"/>
<circle cx="1005.4" cy="828.3" r="1.25" fill="#f2f2f2" stroke="#7a7a7a" stroke-width="0.7"/>
<circle cx="1012.9" cy="828.3" r="1.25" fill="#f2f2f2" stroke="#7a7a7a" stroke-width="0.7"/>
<circle cx="1020.4" cy="828.3" r="1.25" fill="#f2f2f2" stroke="#7a7a7a" stroke-width="0.7"/>
<circle cx="1027.9" cy="828.3" r="1.25" fill="#f2f2f2" stroke="#7a7a7a" stroke-width="0.7"/>
<circle cx="1049.5" cy="828.3" r="1.25" fill="#f2f2f2" stroke="#7a7a7a" stroke-width="0.7"/>
<circle cx="1057" cy="828.3" r="1.25" fill="#f2f2f2" stroke="#7a7a7a" stroke-width="0.7"/>
<circle cx="1064.5" cy="828.3" r="1.25" fill="#f2f2f2" stroke="#7a7a7a" stroke-width="0.7"/>
<circle cx="1072" cy="828.3" r="1.25" fill="#f2f2f2" stroke="#7a7a7a" stroke-width="0.7"/>
<circle cx="1093.6" cy="828.3" r="1.25" fill="#f2f2f2" stroke="#7a7a7a" stroke-width="0.7"/>
<circle cx="1101.1" cy="828.3" r="1.25" fill="#f2f2f2" stroke="#7a7a7a" stroke-width="0.7"/>
<circle cx="1108.6" cy="828.3" r="1.25" fill="#f2f2f2" stroke="#7a7a7a" stroke-width="0.7"/>
<circle cx="1116.1" cy="828.3" r="1.25" fill="#f2f2f2" stroke="#7a7a7a" stroke-width="0.7"/>
<circle cx="1137.7" cy="828.3" r="1.25" fill="#f2f2f2" stroke="#7a7a7a" stroke-width="0.7"/>
<circle cx="1145.2" cy="828.3" r="1.25" fill="#f2f2f2" stroke="#7a7a7a" stroke-width="0.7"/>
<circle cx="1152.7" cy="828.3" r="1.25" fill="#f2f2f2" stroke="#7a7a7a" stroke-width="0.7"/>
<circle cx="1160.2" cy="828.3" r="1.25" fill="#f2f2f2" stroke="#7a7a7a" stroke-width="0.7"/>
<circle cx="1181.8" cy="828.3" r="1.25" fill="#f2f2f2" stroke="#7a7a7a" stroke-width="0.7"/>
<circle cx="1189.3" cy="828.3" r="1.25" fill="#f2f2f2" stroke="#7a7a7a" stroke-width="0.7"/>
<circle cx="1196.8" cy="828.3" r="1.25" fill="#f2f2f2" stroke="#7a7a7a" stroke-width="0.7"/>
<circle cx="1204.3" cy="828.3" r="1.25" fill="#f2f2f2" stroke="#7a7a7a" stroke-width="0.7"/>
<circle cx="1225.9" cy="828.3" r="1.25" fill="#f2f2f2" stroke="#7a7a7a" stroke-width="0.7"/>
<circle cx="1233.4" cy="828.3" r="1.25" fill="#f2f2f2" stroke="#7a7a7a" stroke-width="0.7"/>
<circle cx="1240.9" cy="828.3" r="1.25" fill="#f2f2f2" stroke="#7a7a7a" stroke-width="0.7"/>
<circle cx="1248.4" cy="828.3" r="1.25" fill="#f2f2f2" stroke="#7a7a7a" stroke-width="0.7"/>
<circle cx="1270" cy="828.3" r="1.25" fill="#f2f2f2" stroke="#7a7a7a" stroke-width="0.7"/>
<circle cx="1277.5" cy="828.3" r="1.25" fill="#f2f2f2" stroke="#7a7a7a" stroke-width="0.7"/>
<circle cx="1285" cy="828.3" r="1.25" fill="#f2f2f2" stroke="#7a7a7a" stroke-width="0.7"/>
<circle cx="1292.5" cy="828.3" r="1.25" fill="#f2f2f2" stroke="#7a7a7a" stroke-width="0.7"/>
<rect x="1296" y="467.3" width="12" height="347" fill="#f6f6f6"/>
<line x1="1297.3" y1="470" x2="1301.6" y2="472.6" stroke="#555" stroke-width="0.9"/>
<line x1="1297.3" y1="475" x2="1301.6" y2="477.6" stroke="#555" stroke-width="0.9"/>
<line x1="1297.3" y1="480" x2="1301.6" y2="482.6" stroke="#555" stroke-width="0.9"/>
<line x1="1297.3" y1="485" x2="1301.6" y2="487.6" stroke="#555" stroke-width="0.9"/>
<line x1="1297.3" y1="490" x2="1301.6" y2="492.6" stroke="#555" stroke-width="0.9"/>
<line x1="1297.3" y1="495" x2="1301.6" y2="497.6" stroke="#555" stroke-width="0.9"/>
<line x1="1297.3" y1="500" x2="1301.6" y2="502.6" stroke="#555" stroke-width="0.9"/>
<line x1="1297.3" y1="505" x2="1301.6" y2="507.6" stroke="#555" stroke-width="0.9"/>
<line x1="1297.3" y1="510" x2="1301.6" y2="512.6" stroke="#555" stroke-width="0.9"/>
<line x1="1297.3" y1="515" x2="1301.6" y2="517.6" stroke="#555" stroke-width="0.9"/>
<line x1="1297.3" y1="520" x2="1301.6" y2="522.6" stroke="#555" stroke-width="0.9"/>
<line x1="1297.3" y1="525" x2="1301.6" y2="527.6" stroke="#555" stroke-width="0.9"/>
<line x1="1297.3" y1="530" x2="1301.6" y2="532.6" stroke="#555" stroke-width="0.9"/>
<line x1="1297.3" y1="535" x2="1301.6" y2="537.6" stroke="#555" stroke-width="0.9"/>
<line x1="1297.3" y1="540" x2="1301.6" y2="542.6" stroke="#555" stroke-width="0.9"/>
<line x1="1297.3" y1="545" x2="1301.6" y2="547.6" stroke="#555" stroke-width="0.9"/>
<line x1="1297.3" y1="550" x2="1301.6" y2="552.6" stroke="#555" stroke-width="0.9"/>
<line x1="1297.3" y1="555" x2="1301.6" y2="557.6" stroke="#555" stroke-width="0.9"/>
<line x1="1297.3" y1="560" x2="1301.6" y2="562.6" stroke="#555" stroke-width="0.9"/>
<line x1="1297.3" y1="565" x2="1301.6" y2="567.6" stroke="#555" stroke-width="0.9"/>
<line x1="1297.3" y1="570" x2="1301.6" y2="572.6" stroke="#555" stroke-width="0.9"/>
<line x1="1297.3" y1="594" x2="1301.6" y2="596.6" stroke="#555" stroke-width="0.9"/>
<line x1="1297.3" y1="599" x2="1301.6" y2="601.6" stroke="#555" stroke-width="0.9"/>
<line x1="1297.3" y1="604" x2="1301.6" y2="606.6" stroke="#555" stroke-width="0.9"/>
<line x1="1297.3" y1="609" x2="1301.6" y2="611.6" stroke="#555" stroke-width="0.9"/>
<line x1="1297.3" y1="614" x2="1301.6" y2="616.6" stroke="#555" stroke-width="0.9"/>
<line x1="1297.3" y1="619" x2="1301.6" y2="621.6" stroke="#555" stroke-width="0.9"/>
<line x1="1297.3" y1="624" x2="1301.6" y2="626.6" stroke="#555" stroke-width="0.9"/>
<line x1="1297.3" y1="629" x2="1301.6" y2="631.6" stroke="#555" stroke-width="0.9"/>
<line x1="1297.3" y1="634" x2="1301.6" y2="636.6" stroke="#555" stroke-width="0.9"/>
<line x1="1297.3" y1="639" x2="1301.6" y2="641.6" stroke="#555" stroke-width="0.9"/>
<line x1="1297.3" y1="644" x2="1301.6" y2="646.6" stroke="#555" stroke-width="0.9"/>
<line x1="1297.3" y1="649" x2="1301.6" y2="651.6" stroke="#555" stroke-width="0.9"/>
<line x1="1297.3" y1="654" x2="1301.6" y2="656.6" stroke="#555" stroke-width="0.9"/>
<line x1="1297.3" y1="659" x2="1301.6" y2="661.6" stroke="#555" stroke-width="0.9"/>
<line x1="1297.3" y1="664" x2="1301.6" y2="666.6" stroke="#555" stroke-width="0.9"/>
<line x1="1297.3" y1="669" x2="1301.6" y2="671.6" stroke="#555" stroke-width="0.9"/>
<line x1="1297.3" y1="674" x2="1301.6" y2="676.6" stroke="#555" stroke-width="0.9"/>
<line x1="1297.3" y1="679" x2="1301.6" y2="681.6" stroke="#555" stroke-width="0.9"/>
<line x1="1297.3" y1="684" x2="1301.6" y2="686.6" stroke="#555" stroke-width="0.9"/>
<line x1="1297.3" y1="689" x2="1301.6" y2="691.6" stroke="#555" stroke-width="0.9"/>
<line x1="1297.3" y1="694" x2="1301.6" y2="696.6" stroke="#555" stroke-width="0.9"/>
<line x1="1297.3" y1="699" x2="1301.6" y2="701.6" stroke="#555" stroke-width="0.9"/>
<line x1="1297.3" y1="704" x2="1301.6" y2="706.6" stroke="#555" stroke-width="0.9"/>
<line x1="1297.3" y1="709" x2="1301.6" y2="711.6" stroke="#555" stroke-width="0.9"/>
<line x1="1297.3" y1="714" x2="1301.6" y2="716.6" stroke="#555" stroke-width="0.9"/>
<line x1="1297.3" y1="738" x2="1301.6" y2="740.6" stroke="#555" stroke-width="0.9"/>
<line x1="1297.3" y1="743" x2="1301.6" y2="745.6" stroke="#555" stroke-width="0.9"/>
<line x1="1297.3" y1="748" x2="1301.6" y2="750.6" stroke="#555" stroke-width="0.9"/>
<line x1="1297.3" y1="753" x2="1301.6" y2="755.6" stroke="#555" stroke-width="0.9"/>
<line x1="1297.3" y1="758" x2="1301.6" y2="760.6" stroke="#555" stroke-width="0.9"/>
<line x1="1297.3" y1="763" x2="1301.6" y2="765.6" stroke="#555" stroke-width="0.9"/>
<line x1="1297.3" y1="768" x2="1301.6" y2="770.6" stroke="#555" stroke-width="0.9"/>
<line x1="1297.3" y1="773" x2="1301.6" y2="775.6" stroke="#555" stroke-width="0.9"/>
<line x1="1297.3" y1="778" x2="1301.6" y2="780.6" stroke="#555" stroke-width="0.9"/>
<line x1="1297.3" y1="783" x2="1301.6" y2="785.6" stroke="#555" stroke-width="0.9"/>
<line x1="1297.3" y1="788" x2="1301.6" y2="790.6" stroke="#555" stroke-width="0.9"/>
<line x1="1297.3" y1="793" x2="1301.6" y2="795.6" stroke="#555" stroke-width="0.9"/>
<line x1="1297.3" y1="798" x2="1301.6" y2="800.6" stroke="#555" stroke-width="0.9"/>
<line x1="1297.3" y1="803" x2="1301.6" y2="805.6" stroke="#555" stroke-width="0.9"/>
<line x1="1297.3" y1="808" x2="1301.6" y2="810.6" stroke="#555" stroke-width="0.9"/>
<line x1="1313.5" y1="444.8" x2="1313.5" y2="715" stroke="#9fd5ec" stroke-width="2.3"/>
<line x1="1313.5" y1="722.3" x2="1313.5" y2="808.1" stroke="#9fd5ec" stroke-width="2.3"/>
<rect x="1301" y="578.8" width="12" height="1.6" fill="none" stroke="#bbb" stroke-width="0.6"/>
<rect x="1300.6" y="720.8" width="12" height="1.6" fill="none" stroke="#bbb" stroke-width="0.6"/>
<rect x="1291.6" y="467.3" width="4.3" height="27.4" fill="#b8f0a4"/>
<line x1="1292.1" y1="467.3" x2="1292.1" y2="494.7" stroke="#7ac870" stroke-width="0.6"/>
<line x1="1295.4" y1="467.3" x2="1295.4" y2="494.7" stroke="#7ac870" stroke-width="0.6"/>
<rect x="1291.6" y="494.7" width="4.3" height="76.9" fill="#e4e4e4" stroke="#3a3a3a" stroke-width="0.8"/>
<line x1="1293.75" y1="494.7" x2="1293.75" y2="571.6" stroke="#9a9a9a" stroke-width="0.9"/>
<rect x="1291.6" y="467.3" width="4.3" height="3.3" fill="#4a4a4a"/>
<rect x="1291.6" y="568.3" width="4.3" height="3.3" fill="#4a4a4a"/>
<rect x="1291.6" y="492.9" width="4.3" height="3.6" fill="#4a4a4a"/>
<line x1="1281" y1="476.6" x2="1294" y2="494.7" stroke="#3a3a3a" stroke-width="5"/>
<line x1="1281" y1="476.6" x2="1294" y2="494.7" stroke="#e6e6e6" stroke-width="3"/>
<line x1="1281" y1="476.6" x2="1294" y2="494.7" stroke="#555" stroke-width="0.8"/>
<line x1="1281" y1="476.6" x2="1283.04" y2="479.44" stroke="#555" stroke-width="5"/>
<rect x="1291.6" y="591.7" width="4.3" height="27.9" fill="#b8f0a4"/>
<line x1="1292.1" y1="591.7" x2="1292.1" y2="619.6" stroke="#7ac870" stroke-width="0.6"/>
<line x1="1295.4" y1="591.7" x2="1295.4" y2="619.6" stroke="#7ac870" stroke-width="0.6"/>
<rect x="1291.6" y="619.6" width="4.3" height="96.3" fill="#e4e4e4" stroke="#3a3a3a" stroke-width="0.8"/>
<line x1="1293.75" y1="619.6" x2="1293.75" y2="715.9" stroke="#9a9a9a" stroke-width="0.9"/>
<rect x="1291.6" y="591.7" width="4.3" height="3.3" fill="#4a4a4a"/>
<rect x="1291.6" y="712.6" width="4.3" height="3.3" fill="#4a4a4a"/>
<rect x="1291.6" y="617.8" width="4.3" height="3.6" fill="#4a4a4a"/>
<line x1="1279.8" y1="600.6" x2="1293.6" y2="619.6" stroke="#3a3a3a" stroke-width="5"/>
<line x1="1279.8" y1="600.6" x2="1293.6" y2="619.6" stroke="#e6e6e6" stroke-width="3"/>
<line x1="1279.8" y1="600.6" x2="1293.6" y2="619.6" stroke="#555" stroke-width="0.8"/>
<line x1="1279.8" y1="600.6" x2="1281.86" y2="603.43" stroke="#555" stroke-width="5"/>
<rect x="1291.6" y="735.3" width="4.3" height="28.3" fill="#b8f0a4"/>
<line x1="1292.1" y1="735.3" x2="1292.1" y2="763.6" stroke="#7ac870" stroke-width="0.6"/>
<line x1="1295.4" y1="735.3" x2="1295.4" y2="763.6" stroke="#7ac870" stroke-width="0.6"/>
<rect x="1291.6" y="763.6" width="4.3" height="51.4" fill="#e4e4e4" stroke="#3a3a3a" stroke-width="0.8"/>
<line x1="1293.75" y1="763.6" x2="1293.75" y2="815" stroke="#9a9a9a" stroke-width="0.9"/>
<rect x="1291.6" y="735.3" width="4.3" height="3.3" fill="#4a4a4a"/>
<rect x="1291.6" y="811.7" width="4.3" height="3.3" fill="#4a4a4a"/>
<rect x="1291.6" y="761.8" width="4.3" height="3.6" fill="#4a4a4a"/>
<line x1="1280.4" y1="744.2" x2="1293.8" y2="763.6" stroke="#3a3a3a" stroke-width="5"/>
<line x1="1280.4" y1="744.2" x2="1293.8" y2="763.6" stroke="#e6e6e6" stroke-width="3"/>
<line x1="1280.4" y1="744.2" x2="1293.8" y2="763.6" stroke="#555" stroke-width="0.8"/>
<line x1="1280.4" y1="744.2" x2="1282.39" y2="747.08" stroke="#555" stroke-width="5"/>
<line x1="504.3" y1="658.6" x2="511" y2="656" stroke="#555" stroke-width="0.9"/>
<line x1="504.3" y1="663.6" x2="511" y2="661" stroke="#555" stroke-width="0.9"/>
<line x1="504.3" y1="668.6" x2="511" y2="666" stroke="#555" stroke-width="0.9"/>
<line x1="504.3" y1="673.6" x2="511" y2="671" stroke="#555" stroke-width="0.9"/>
<line x1="504.3" y1="678.6" x2="511" y2="676" stroke="#555" stroke-width="0.9"/>
<line x1="504.3" y1="683.6" x2="511" y2="681" stroke="#555" stroke-width="0.9"/>
<line x1="504.3" y1="688.6" x2="511" y2="686" stroke="#555" stroke-width="0.9"/>
<line x1="504.3" y1="693.6" x2="511" y2="691" stroke="#555" stroke-width="0.9"/>
<line x1="504.3" y1="698.6" x2="511" y2="696" stroke="#555" stroke-width="0.9"/>
<line x1="504.3" y1="703.6" x2="511" y2="701" stroke="#555" stroke-width="0.9"/>
<line x1="504.3" y1="708.6" x2="511" y2="706" stroke="#555" stroke-width="0.9"/>
<line x1="504.3" y1="713.6" x2="511" y2="711" stroke="#555" stroke-width="0.9"/>
<line x1="504.3" y1="718.6" x2="511" y2="716" stroke="#555" stroke-width="0.9"/>
<line x1="504.3" y1="723.6" x2="511" y2="721" stroke="#555" stroke-width="0.9"/>
<line x1="504.3" y1="728.6" x2="511" y2="726" stroke="#555" stroke-width="0.9"/>
<line x1="504.3" y1="733.6" x2="511" y2="731" stroke="#555" stroke-width="0.9"/>
<line x1="504.3" y1="738.6" x2="511" y2="736" stroke="#555" stroke-width="0.9"/>
<line x1="504.3" y1="743.6" x2="511" y2="741" stroke="#555" stroke-width="0.9"/>
<line x1="504.3" y1="748.6" x2="511" y2="746" stroke="#555" stroke-width="0.9"/>
<line x1="504.3" y1="753.6" x2="511" y2="751" stroke="#555" stroke-width="0.9"/>
<line x1="504.3" y1="758.6" x2="511" y2="756" stroke="#555" stroke-width="0.9"/>
<line x1="504.3" y1="763.6" x2="511" y2="761" stroke="#555" stroke-width="0.9"/>
<line x1="504.3" y1="768.6" x2="511" y2="766" stroke="#555" stroke-width="0.9"/>
<line x1="504.3" y1="773.6" x2="511" y2="771" stroke="#555" stroke-width="0.9"/>
<line x1="504.3" y1="778.6" x2="511" y2="776" stroke="#555" stroke-width="0.9"/>
<line x1="504.3" y1="783.6" x2="511" y2="781" stroke="#555" stroke-width="0.9"/>
<line x1="504.3" y1="788.6" x2="511" y2="786" stroke="#555" stroke-width="0.9"/>
<line x1="504.3" y1="793.6" x2="511" y2="791" stroke="#555" stroke-width="0.9"/>
<line x1="504.3" y1="798.6" x2="511" y2="796" stroke="#555" stroke-width="0.9"/>
<line x1="504.3" y1="803.6" x2="511" y2="801" stroke="#555" stroke-width="0.9"/>
<line x1="504.3" y1="808.6" x2="511" y2="806" stroke="#555" stroke-width="0.9"/>
<line x1="504.3" y1="813.6" x2="511" y2="811" stroke="#555" stroke-width="0.9"/>
<line x1="493.1" y1="631.2" x2="493.1" y2="808.3" stroke="#9fd5ec" stroke-width="2.3"/>
<rect x="511" y="654.1" width="4.3" height="23" fill="#b8f0a4"/>
<rect x="511" y="677.1" width="4.3" height="137.9" fill="#e4e4e4" stroke="#3a3a3a" stroke-width="0.8"/>
<line x1="513.15" y1="677.1" x2="513.15" y2="815" stroke="#9a9a9a" stroke-width="0.9"/>
<rect x="511" y="654.1" width="4.3" height="3.3" fill="#4a4a4a"/>
<rect x="511" y="811.7" width="4.3" height="3.3" fill="#4a4a4a"/>
<rect x="511" y="675.3" width="4.3" height="3.6" fill="#4a4a4a"/>
<line x1="524.4" y1="660.6" x2="513" y2="677.1" stroke="#3a3a3a" stroke-width="5"/>
<line x1="524.4" y1="660.6" x2="513" y2="677.1" stroke="#e6e6e6" stroke-width="3"/>
<line x1="524.4" y1="660.6" x2="513" y2="677.1" stroke="#555" stroke-width="0.8"/>
<line x1="524.4" y1="660.6" x2="522.41" y2="663.48" stroke="#555" stroke-width="5"/>
<rect x="909.6" y="571.6" width="391.6" height="20.1" fill="#d8d8d8" stroke="#1a1a1a" stroke-width="1.7"/>
<circle cx="917.1" cy="584.3" r="1.25" fill="#f2f2f2" stroke="#7a7a7a" stroke-width="0.7"/>
<circle cx="924.6" cy="584.3" r="1.25" fill="#f2f2f2" stroke="#7a7a7a" stroke-width="0.7"/>
<circle cx="932.1" cy="584.3" r="1.25" fill="#f2f2f2" stroke="#7a7a7a" stroke-width="0.7"/>
<circle cx="939.6" cy="584.3" r="1.25" fill="#f2f2f2" stroke="#7a7a7a" stroke-width="0.7"/>
<circle cx="961.3" cy="584.3" r="1.25" fill="#f2f2f2" stroke="#7a7a7a" stroke-width="0.7"/>
<circle cx="968.8" cy="584.3" r="1.25" fill="#f2f2f2" stroke="#7a7a7a" stroke-width="0.7"/>
<circle cx="976.3" cy="584.3" r="1.25" fill="#f2f2f2" stroke="#7a7a7a" stroke-width="0.7"/>
<circle cx="983.8" cy="584.3" r="1.25" fill="#f2f2f2" stroke="#7a7a7a" stroke-width="0.7"/>
<circle cx="1005.5" cy="584.3" r="1.25" fill="#f2f2f2" stroke="#7a7a7a" stroke-width="0.7"/>
<circle cx="1013" cy="584.3" r="1.25" fill="#f2f2f2" stroke="#7a7a7a" stroke-width="0.7"/>
<circle cx="1020.5" cy="584.3" r="1.25" fill="#f2f2f2" stroke="#7a7a7a" stroke-width="0.7"/>
<circle cx="1028" cy="584.3" r="1.25" fill="#f2f2f2" stroke="#7a7a7a" stroke-width="0.7"/>
<circle cx="1049.7" cy="584.3" r="1.25" fill="#f2f2f2" stroke="#7a7a7a" stroke-width="0.7"/>
<circle cx="1057.2" cy="584.3" r="1.25" fill="#f2f2f2" stroke="#7a7a7a" stroke-width="0.7"/>
<circle cx="1064.7" cy="584.3" r="1.25" fill="#f2f2f2" stroke="#7a7a7a" stroke-width="0.7"/>
<circle cx="1072.2" cy="584.3" r="1.25" fill="#f2f2f2" stroke="#7a7a7a" stroke-width="0.7"/>
<circle cx="1093.9" cy="584.3" r="1.25" fill="#f2f2f2" stroke="#7a7a7a" stroke-width="0.7"/>
<circle cx="1101.4" cy="584.3" r="1.25" fill="#f2f2f2" stroke="#7a7a7a" stroke-width="0.7"/>
<circle cx="1108.9" cy="584.3" r="1.25" fill="#f2f2f2" stroke="#7a7a7a" stroke-width="0.7"/>
<circle cx="1116.4" cy="584.3" r="1.25" fill="#f2f2f2" stroke="#7a7a7a" stroke-width="0.7"/>
<circle cx="1138.1" cy="584.3" r="1.25" fill="#f2f2f2" stroke="#7a7a7a" stroke-width="0.7"/>
<circle cx="1145.6" cy="584.3" r="1.25" fill="#f2f2f2" stroke="#7a7a7a" stroke-width="0.7"/>
<circle cx="1153.1" cy="584.3" r="1.25" fill="#f2f2f2" stroke="#7a7a7a" stroke-width="0.7"/>
<circle cx="1160.6" cy="584.3" r="1.25" fill="#f2f2f2" stroke="#7a7a7a" stroke-width="0.7"/>
<circle cx="1182.3" cy="584.3" r="1.25" fill="#f2f2f2" stroke="#7a7a7a" stroke-width="0.7"/>
<circle cx="1189.8" cy="584.3" r="1.25" fill="#f2f2f2" stroke="#7a7a7a" stroke-width="0.7"/>
<circle cx="1197.3" cy="584.3" r="1.25" fill="#f2f2f2" stroke="#7a7a7a" stroke-width="0.7"/>
<circle cx="1204.8" cy="584.3" r="1.25" fill="#f2f2f2" stroke="#7a7a7a" stroke-width="0.7"/>
<circle cx="1226.5" cy="584.3" r="1.25" fill="#f2f2f2" stroke="#7a7a7a" stroke-width="0.7"/>
<circle cx="1234" cy="584.3" r="1.25" fill="#f2f2f2" stroke="#7a7a7a" stroke-width="0.7"/>
<circle cx="1241.5" cy="584.3" r="1.25" fill="#f2f2f2" stroke="#7a7a7a" stroke-width="0.7"/>
<circle cx="1249" cy="584.3" r="1.25" fill="#f2f2f2" stroke="#7a7a7a" stroke-width="0.7"/>
<circle cx="1270.7" cy="584.3" r="1.25" fill="#f2f2f2" stroke="#7a7a7a" stroke-width="0.7"/>
<circle cx="1278.2" cy="584.3" r="1.25" fill="#f2f2f2" stroke="#7a7a7a" stroke-width="0.7"/>
<circle cx="1285.7" cy="584.3" r="1.25" fill="#f2f2f2" stroke="#7a7a7a" stroke-width="0.7"/>
<circle cx="1293.2" cy="584.3" r="1.25" fill="#f2f2f2" stroke="#7a7a7a" stroke-width="0.7"/>
<rect x="903.1" y="715.9" width="397.5" height="19.4" fill="#d8d8d8" stroke="#1a1a1a" stroke-width="1.7"/>
<circle cx="917.1" cy="728.3" r="1.25" fill="#f2f2f2" stroke="#7a7a7a" stroke-width="0.7"/>
<circle cx="924.6" cy="728.3" r="1.25" fill="#f2f2f2" stroke="#7a7a7a" stroke-width="0.7"/>
<circle cx="932.1" cy="728.3" r="1.25" fill="#f2f2f2" stroke="#7a7a7a" stroke-width="0.7"/>
<circle cx="939.6" cy="728.3" r="1.25" fill="#f2f2f2" stroke="#7a7a7a" stroke-width="0.7"/>
<circle cx="961.3" cy="728.3" r="1.25" fill="#f2f2f2" stroke="#7a7a7a" stroke-width="0.7"/>
<circle cx="968.8" cy="728.3" r="1.25" fill="#f2f2f2" stroke="#7a7a7a" stroke-width="0.7"/>
<circle cx="976.3" cy="728.3" r="1.25" fill="#f2f2f2" stroke="#7a7a7a" stroke-width="0.7"/>
<circle cx="983.8" cy="728.3" r="1.25" fill="#f2f2f2" stroke="#7a7a7a" stroke-width="0.7"/>
<circle cx="1005.5" cy="728.3" r="1.25" fill="#f2f2f2" stroke="#7a7a7a" stroke-width="0.7"/>
<circle cx="1013" cy="728.3" r="1.25" fill="#f2f2f2" stroke="#7a7a7a" stroke-width="0.7"/>
<circle cx="1020.5" cy="728.3" r="1.25" fill="#f2f2f2" stroke="#7a7a7a" stroke-width="0.7"/>
<circle cx="1028" cy="728.3" r="1.25" fill="#f2f2f2" stroke="#7a7a7a" stroke-width="0.7"/>
<circle cx="1049.7" cy="728.3" r="1.25" fill="#f2f2f2" stroke="#7a7a7a" stroke-width="0.7"/>
<circle cx="1057.2" cy="728.3" r="1.25" fill="#f2f2f2" stroke="#7a7a7a" stroke-width="0.7"/>
<circle cx="1064.7" cy="728.3" r="1.25" fill="#f2f2f2" stroke="#7a7a7a" stroke-width="0.7"/>
<circle cx="1072.2" cy="728.3" r="1.25" fill="#f2f2f2" stroke="#7a7a7a" stroke-width="0.7"/>
<circle cx="1093.9" cy="728.3" r="1.25" fill="#f2f2f2" stroke="#7a7a7a" stroke-width="0.7"/>
<circle cx="1101.4" cy="728.3" r="1.25" fill="#f2f2f2" stroke="#7a7a7a" stroke-width="0.7"/>
<circle cx="1108.9" cy="728.3" r="1.25" fill="#f2f2f2" stroke="#7a7a7a" stroke-width="0.7"/>
<circle cx="1116.4" cy="728.3" r="1.25" fill="#f2f2f2" stroke="#7a7a7a" stroke-width="0.7"/>
<circle cx="1138.1" cy="728.3" r="1.25" fill="#f2f2f2" stroke="#7a7a7a" stroke-width="0.7"/>
<circle cx="1145.6" cy="728.3" r="1.25" fill="#f2f2f2" stroke="#7a7a7a" stroke-width="0.7"/>
<circle cx="1153.1" cy="728.3" r="1.25" fill="#f2f2f2" stroke="#7a7a7a" stroke-width="0.7"/>
<circle cx="1160.6" cy="728.3" r="1.25" fill="#f2f2f2" stroke="#7a7a7a" stroke-width="0.7"/>
<circle cx="1182.3" cy="728.3" r="1.25" fill="#f2f2f2" stroke="#7a7a7a" stroke-width="0.7"/>
<circle cx="1189.8" cy="728.3" r="1.25" fill="#f2f2f2" stroke="#7a7a7a" stroke-width="0.7"/>
<circle cx="1197.3" cy="728.3" r="1.25" fill="#f2f2f2" stroke="#7a7a7a" stroke-width="0.7"/>
<circle cx="1204.8" cy="728.3" r="1.25" fill="#f2f2f2" stroke="#7a7a7a" stroke-width="0.7"/>
<circle cx="1226.5" cy="728.3" r="1.25" fill="#f2f2f2" stroke="#7a7a7a" stroke-width="0.7"/>
<circle cx="1234" cy="728.3" r="1.25" fill="#f2f2f2" stroke="#7a7a7a" stroke-width="0.7"/>
<circle cx="1241.5" cy="728.3" r="1.25" fill="#f2f2f2" stroke="#7a7a7a" stroke-width="0.7"/>
<circle cx="1249" cy="728.3" r="1.25" fill="#f2f2f2" stroke="#7a7a7a" stroke-width="0.7"/>
<circle cx="1270.7" cy="728.3" r="1.25" fill="#f2f2f2" stroke="#7a7a7a" stroke-width="0.7"/>
<circle cx="1278.2" cy="728.3" r="1.25" fill="#f2f2f2" stroke="#7a7a7a" stroke-width="0.7"/>
<circle cx="1285.7" cy="728.3" r="1.25" fill="#f2f2f2" stroke="#7a7a7a" stroke-width="0.7"/>
<circle cx="1293.2" cy="728.3" r="1.25" fill="#f2f2f2" stroke="#7a7a7a" stroke-width="0.7"/>
<rect x="901.3" y="440" width="392.6" height="14" fill="#76b461"/>
<polygon points="901.3,441 902.45,437.37 903.59,440.25 904.22,437.17 904.85,440.18 905.42,436.73 905.98,440.51 906.97,438.67 907.96,440.93 908.91,435.46 909.87,440.02 910.74,433.75 911.6,440.7 912.9,433.86 914.19,439.65 915.04,437.13 915.89,439.94 917.09,437.35 918.29,439.41 919.01,435.98 919.73,440.63 920.98,433.37 922.23,439.65 923.32,437.61 924.41,441 925.24,438.25 926.07,439.43 927.74,433.59 929.41,440.57 930.59,438.69 931.76,439.79 932.33,438.58 932.9,440.9 933.8,436.13 934.69,440.28 935.28,438.31 935.87,439.97 936.52,438.58 937.17,440.57 937.88,435.5 938.59,439.58 939.69,438.24 940.79,439.97 941.44,438.64 942.09,440.59 942.8,436.22 943.5,440.88 944.17,438.68 944.84,440.04 946.02,437.66 947.19,440.23 947.82,436.93 948.44,440.75 949.12,435.73 949.79,440.7 950.43,436.34 951.07,439.48 951.86,435.82 952.66,440.83 953.32,438.86 953.99,439.87 954.91,438.07 955.83,440.53 956.37,438.37 956.92,440.63 957.85,436.99 958.78,440.55 959.29,435.7 959.81,440.57 961.02,434.32 962.23,440.08 963.36,438.53 964.48,439.43 965.39,436.64 966.3,440.78 967.88,433.14 969.47,439.46 970.31,438.92 971.14,439.83 971.7,437.85 972.25,440.13 973.26,436.35 974.28,439.87 975.03,436.14 975.77,439.9 976.56,435.76 977.36,439.74 978.29,435.89 979.23,440.39 979.79,436.9 980.34,439.98 981.35,435.42 982.36,440.38 983.17,436.35 983.98,439.66 984.5,438.7 985.02,440.04 986.01,437.27 987,440.2 987.68,436.79 988.36,440.98 989,437.92 989.64,440.73 990.45,435.74 991.26,439.57 991.9,437.82 992.54,440.31 993.65,436.1 994.77,440.38 995.37,436.9 995.96,440.21 996.96,435.99 997.96,439.48 998.77,438 999.59,440.56 1000.53,438.23 1001.46,440.21 1002.65,437.86 1003.84,440.28 1004.69,433.2 1005.53,439.87 1006.59,436.95 1007.64,440.97 1008.16,438.51 1008.67,439.67 1009.21,438.15 1009.74,439.99 1010.7,437.39 1011.66,439.71 1012.3,435.55 1012.94,440.24 1014.54,433.84 1016.14,440.71 1017.12,438.02 1018.11,440.17 1018.89,436.79 1019.66,439.73 1021.27,433.11 1022.88,440.79 1024.02,437.37 1025.16,440.4 1026.21,436.95 1027.27,439.49 1027.91,437.33 1028.56,439.84 1029.56,436.05 1030.56,440.66 1031.75,435.76 1032.93,440.14 1034.07,436.15 1035.2,439.63 1036.62,433.89 1038.04,439.77 1038.91,433.31 1039.78,439.72 1040.83,438.38 1041.88,440.78 1042.89,438.46 1043.9,439.66 1044.74,436.52 1045.59,439.48 1046.46,438.69 1047.32,440.54 1048.19,436.38 1049.06,439.65 1049.82,436.98 1050.59,439.65 1051.68,435.76 1052.78,439.45 1053.42,437.11 1054.06,440.14 1054.58,437.19 1055.1,439.45 1056.16,437.14 1057.22,440.1 1057.77,437.23 1058.31,440.14 1059.46,437.51 1060.61,440.57 1061.41,437.3 1062.21,439.69 1062.94,435.76 1063.66,440.69 1064.25,436.78 1064.84,439.75 1065.5,438.92 1066.16,439.9 1067.09,437.84 1068.03,440.83 1068.88,436.37 1069.74,440.6 1070.55,438.29 1071.35,440.4 1071.96,437.51 1072.58,440.67 1073.45,436.73 1074.32,439.64 1074.98,436.8 1075.64,439.81 1076.36,436.08 1077.08,440.5 1078.28,435.68 1079.48,439.58 1080.49,438.52 1081.5,440.58 1082.29,438.65 1083.09,439.74 1084.07,438.55 1085.05,440.97 1086.19,438.28 1087.33,439.45 1088.36,438.58 1089.39,440.2 1089.94,436.53 1090.49,440.83 1091.35,438.87 1092.21,440.09 1092.85,438.47 1093.49,439.66 1094.06,435.43 1094.62,440.9 1095.66,435.57 1096.7,440.48 1097.5,437.32 1098.3,440.04 1099.39,438.95 1100.48,440.71 1101.26,437.37 1102.05,440.69 1102.56,438.41 1103.07,439.57 1104.17,436.11 1105.27,439.99 1106.13,437.54 1106.98,439.43 1108.12,436.1 1109.26,439.81 1110.04,436.2 1110.82,439.57 1111.86,435.83 1112.9,439.78 1113.45,437.54 1114,440.45 1115.51,434.03 1117.03,440 1117.99,438.16 1118.96,440.46 1119.83,436.62 1120.71,440.38 1121.7,435.4 1122.69,439.78 1124.31,433.62 1125.94,440.59 1127.16,434.29 1128.38,440.84 1129.27,438.1 1130.15,440.19 1131.35,435.52 1132.55,439.98 1134.2,433.64 1135.85,440.93 1136.68,435.65 1137.51,440.73 1138.05,437.22 1138.59,439.49 1139.51,437.49 1140.43,440.42 1141.32,437.97 1142.21,440.55 1142.72,436.42 1143.23,440.61 1144.26,438.85 1145.29,440.38 1145.82,435.77 1146.36,439.42 1147.64,433.15 1148.92,440.24 1149.79,435.5 1150.65,439.5 1151.84,436.4 1153.02,439.69 1154.33,433.6 1155.64,440.67 1156.23,438.81 1156.82,440.29 1157.5,436.6 1158.19,440.07 1159.06,437.49 1159.93,439.4 1160.6,435.57 1161.26,440.82 1162.2,435.79 1163.14,440.43 1164.03,438.02 1164.93,440.05 1165.56,436.72 1166.19,440.6 1167.31,435.47 1168.42,440.94 1169.22,438.78 1170.02,440 1170.57,438.63 1171.12,440.86 1172.06,436.57 1173,440.4 1173.75,437.28 1174.49,439.81 1176.19,434.41 1177.9,440 1178.7,436.23 1179.49,440.59 1180.45,436.08 1181.41,439.42 1182.43,437.83 1183.45,439.53 1184.02,437.46 1184.59,439.6 1185.93,433.7 1187.27,439.9 1187.83,437.92 1188.38,440.66 1189.99,434.11 1191.6,439.89 1192.35,437.98 1193.11,439.84 1194.54,433.47 1195.98,439.53 1196.79,435.62 1197.59,439.72 1198.37,437.9 1199.15,439.5 1199.91,435.78 1200.66,440.42 1201.43,437.69 1202.2,440.69 1203.08,436.97 1203.96,439.66 1204.99,436.97 1206.02,439.59 1207.43,433.77 1208.84,440.09 1209.9,435.52 1210.97,440.9 1211.53,437.03 1212.08,440.87 1212.64,436.35 1213.2,439.99 1214.16,438.48 1215.11,440.61 1215.98,438.21 1216.84,439.78 1218.02,437.58 1219.2,439.92 1220.2,437.22 1221.21,439.87 1222.28,435.71 1223.36,439.93 1224.45,435.93 1225.53,439.58 1226.4,435.55 1227.26,439.86 1228.06,436.11 1228.85,440.77 1229.62,436.33 1230.38,440.73 1231.08,438.26 1231.79,439.45 1232.37,438.79 1232.95,439.96 1233.49,436.21 1234.03,440.27 1234.56,436.9 1235.09,440.83 1235.75,438.34 1236.42,439.85 1237.04,436.86 1237.67,440.55 1238.39,438.38 1239.11,440.12 1239.79,436.06 1240.48,439.58 1241.36,435.71 1242.24,439.47 1242.78,437.26 1243.31,439.48 1244.18,436.11 1245.05,440.17 1246.01,438.01 1246.97,440.62 1247.73,438.96 1248.49,439.73 1249.1,436.43 1249.71,440.75 1250.82,437.84 1251.93,440.17 1252.61,436.71 1253.3,440.14 1253.8,438.46 1254.3,439.69 1254.86,435.95 1255.42,440.57 1256.74,433.83 1258.07,439.47 1258.78,436.89 1259.49,439.74 1260.06,437.5 1260.62,439.68 1261.49,438.25 1262.36,440.75 1263.07,436 1263.79,440.88 1264.79,437.9 1265.79,440.42 1267.11,433.97 1268.43,439.45 1268.94,436.01 1269.44,440.4 1270.34,436.44 1271.23,440.27 1272.29,438.96 1273.35,440.67 1274.12,436.78 1274.88,440.14 1275.65,437.93 1276.43,439.93 1277.44,438.08 1278.45,440.47 1279.46,435.6 1280.47,440.47 1281.37,434.37 1282.28,439.92 1283.06,436.45 1283.84,439.66 1284.82,434.24 1285.79,440.8 1287.07,433.13 1288.35,440.18 1289.42,436.67 1290.5,440.38 1291.01,437.81 1291.52,440.36 1292.57,436.48 1293.63,439.94 1294.81,434.07 1293.9,439.96 1293.9,441" fill="#5f9d49"/>
<rect x="901.3" y="446.5" width="392.6" height="7.3" fill="#578a33"/>
<polygon points="874.4,436.9 901.3,436.9 901.3,453.75 1293.9,453.75 1293.9,437.1 1314.9,437.1 1314.9,440.4 1301,440.4 1301,467.3 894.4,467.3 894.4,440.3 874.4,440.3" fill="#d8d8d8" stroke="#1a1a1a" stroke-width="1.6" stroke-linejoin="miter"/>
<circle cx="917.1" cy="460.4" r="1.25" fill="#f2f2f2" stroke="#7a7a7a" stroke-width="0.7"/>
<circle cx="924.6" cy="460.4" r="1.25" fill="#f2f2f2" stroke="#7a7a7a" stroke-width="0.7"/>
<circle cx="932.1" cy="460.4" r="1.25" fill="#f2f2f2" stroke="#7a7a7a" stroke-width="0.7"/>
<circle cx="939.6" cy="460.4" r="1.25" fill="#f2f2f2" stroke="#7a7a7a" stroke-width="0.7"/>
<circle cx="961.3" cy="460.4" r="1.25" fill="#f2f2f2" stroke="#7a7a7a" stroke-width="0.7"/>
<circle cx="968.8" cy="460.4" r="1.25" fill="#f2f2f2" stroke="#7a7a7a" stroke-width="0.7"/>
<circle cx="976.3" cy="460.4" r="1.25" fill="#f2f2f2" stroke="#7a7a7a" stroke-width="0.7"/>
<circle cx="983.8" cy="460.4" r="1.25" fill="#f2f2f2" stroke="#7a7a7a" stroke-width="0.7"/>
<circle cx="1005.5" cy="460.4" r="1.25" fill="#f2f2f2" stroke="#7a7a7a" stroke-width="0.7"/>
<circle cx="1013" cy="460.4" r="1.25" fill="#f2f2f2" stroke="#7a7a7a" stroke-width="0.7"/>
<circle cx="1020.5" cy="460.4" r="1.25" fill="#f2f2f2" stroke="#7a7a7a" stroke-width="0.7"/>
<circle cx="1028" cy="460.4" r="1.25" fill="#f2f2f2" stroke="#7a7a7a" stroke-width="0.7"/>
<circle cx="1049.7" cy="460.4" r="1.25" fill="#f2f2f2" stroke="#7a7a7a" stroke-width="0.7"/>
<circle cx="1057.2" cy="460.4" r="1.25" fill="#f2f2f2" stroke="#7a7a7a" stroke-width="0.7"/>
<circle cx="1064.7" cy="460.4" r="1.25" fill="#f2f2f2" stroke="#7a7a7a" stroke-width="0.7"/>
<circle cx="1072.2" cy="460.4" r="1.25" fill="#f2f2f2" stroke="#7a7a7a" stroke-width="0.7"/>
<circle cx="1093.9" cy="460.4" r="1.25" fill="#f2f2f2" stroke="#7a7a7a" stroke-width="0.7"/>
<circle cx="1101.4" cy="460.4" r="1.25" fill="#f2f2f2" stroke="#7a7a7a" stroke-width="0.7"/>
<circle cx="1108.9" cy="460.4" r="1.25" fill="#f2f2f2" stroke="#7a7a7a" stroke-width="0.7"/>
<circle cx="1116.4" cy="460.4" r="1.25" fill="#f2f2f2" stroke="#7a7a7a" stroke-width="0.7"/>
<circle cx="1138.1" cy="460.4" r="1.25" fill="#f2f2f2" stroke="#7a7a7a" stroke-width="0.7"/>
<circle cx="1145.6" cy="460.4" r="1.25" fill="#f2f2f2" stroke="#7a7a7a" stroke-width="0.7"/>
<circle cx="1153.1" cy="460.4" r="1.25" fill="#f2f2f2" stroke="#7a7a7a" stroke-width="0.7"/>
<circle cx="1160.6" cy="460.4" r="1.25" fill="#f2f2f2" stroke="#7a7a7a" stroke-width="0.7"/>
<circle cx="1182.3" cy="460.4" r="1.25" fill="#f2f2f2" stroke="#7a7a7a" stroke-width="0.7"/>
<circle cx="1189.8" cy="460.4" r="1.25" fill="#f2f2f2" stroke="#7a7a7a" stroke-width="0.7"/>
<circle cx="1197.3" cy="460.4" r="1.25" fill="#f2f2f2" stroke="#7a7a7a" stroke-width="0.7"/>
<circle cx="1204.8" cy="460.4" r="1.25" fill="#f2f2f2" stroke="#7a7a7a" stroke-width="0.7"/>
<circle cx="1226.5" cy="460.4" r="1.25" fill="#f2f2f2" stroke="#7a7a7a" stroke-width="0.7"/>
<circle cx="1234" cy="460.4" r="1.25" fill="#f2f2f2" stroke="#7a7a7a" stroke-width="0.7"/>
<circle cx="1241.5" cy="460.4" r="1.25" fill="#f2f2f2" stroke="#7a7a7a" stroke-width="0.7"/>
<circle cx="1249" cy="460.4" r="1.25" fill="#f2f2f2" stroke="#7a7a7a" stroke-width="0.7"/>
<circle cx="1270.7" cy="460.4" r="1.25" fill="#f2f2f2" stroke="#7a7a7a" stroke-width="0.7"/>
<circle cx="1278.2" cy="460.4" r="1.25" fill="#f2f2f2" stroke="#7a7a7a" stroke-width="0.7"/>
<circle cx="1285.7" cy="460.4" r="1.25" fill="#f2f2f2" stroke="#7a7a7a" stroke-width="0.7"/>
<circle cx="1293.2" cy="460.4" r="1.25" fill="#f2f2f2" stroke="#7a7a7a" stroke-width="0.7"/>
<polygon points="513,624 689,552.9 787,552.9 749.5,614.3 772.3,626 772.3,632 513,632" fill="#b1d5a1"/>
<polyline points="659,571 660.62,569 662.23,571 663.85,568 665.46,571 667.08,569.74 668.69,571 670.31,569.16 671.92,571 673.54,570.45 675.15,571 676.77,569.76 678.38,571 680,570.5 681.62,571 683.23,569.27 684.85,571 686.46,570.16 688.08,571 689.69,570.78 691.31,571 692.92,570.43 694.54,571 696.15,570.54 697.77,571 699.38,570.51 701,571" fill="none" stroke="#93b387" stroke-width="0.7"/>
<polyline points="621.7,592.2 623.33,590.2 624.96,592.2 626.58,589.2 628.21,592.2 629.84,590.45 631.47,592.2 633.1,591.18 634.72,592.2 636.35,590.67 637.98,592.2 639.61,591.43 641.24,592.2 642.86,591.03 644.49,592.2 646.12,590.01 647.75,592.2 649.38,591.63 651,592.2 652.63,591.82 654.26,592.2 655.89,591.98 657.52,592.2 659.14,591.78 660.77,592.2 662.4,591.39" fill="none" stroke="#93b387" stroke-width="0.7"/>
<polyline points="579,608.2 580.64,606.2 582.28,608.2 583.92,605.2 585.56,608.2 587.2,607.59 588.84,608.2 590.48,606.28 592.12,608.2 593.76,607.3 595.4,608.2 597.04,606.9 598.68,608.2 600.32,606.89 601.96,608.2 603.6,607.44 605.24,608.2 606.88,607.41 608.52,608.2 610.16,607.5 611.8,608.2 613.44,607.96 615.08,608.2 616.72,607.6 618.36,608.2 620,607.98" fill="none" stroke="#93b387" stroke-width="0.7"/>
<polyline points="678,584.3 679.63,584.03 681.26,584.3 682.89,583.99 684.52,584.3 686.15,583.83 687.78,584.3 689.41,583.56 691.04,584.3 692.67,583.95 694.3,584.3 695.93,583.33 697.57,584.3 699.2,583.62 700.83,584.3 702.46,582.22 704.09,584.3 705.72,582.43 707.35,584.3 708.98,584.3 710.61,584.3 712.24,581.3 713.87,584.3 715.5,581.3" fill="none" stroke="#93b387" stroke-width="0.7"/>
<polyline points="728,563 729.61,562.3 731.22,563 732.83,562.16 734.43,563 736.04,562.17 737.65,563 739.26,562.48 740.87,563 742.48,562.36 744.09,563 745.7,562.31 747.3,563 748.91,562.08 750.52,563 752.13,561.52 753.74,563 755.35,562.13 756.96,563 758.57,563 760.17,563 761.78,560 763.39,563 765,560" fill="none" stroke="#93b387" stroke-width="0.7"/>
<polyline points="710,602 711.63,601.24 713.25,602 714.88,601.62 716.5,602 718.13,601.35 719.76,602 721.38,601.28 723.01,602 724.63,601.28 726.26,602 727.89,600.14 729.51,602 731.14,600.8 732.77,602 734.39,600.34 736.02,602 737.64,600.56 739.27,602 740.9,602 742.52,602 744.15,599 745.77,602 747.4,599" fill="none" stroke="#93b387" stroke-width="0.7"/>
<polyline points="496.8,622.3 683.3,546.4 790,546.4" fill="none" stroke="#8a8a95" stroke-width="0.8"/>
<polyline points="514.3,622.3 688.1,549.5 789,549.5" fill="none" stroke="#8a8a95" stroke-width="0.8"/>
<rect x="512.8" y="623.5" width="259.5" height="17" fill="#6db05a"/>
<polygon points="512.8,625 513.86,621.55 514.91,623.77 515.43,621.21 515.95,624.39 517.08,620.62 518.22,624.85 519.1,622 519.98,624.25 520.67,623.34 521.37,623.81 522.43,621.14 523.48,624.82 523.98,621.57 524.49,623.87 525.67,622.76 526.86,623.87 527.74,622.53 528.62,624.12 529.6,622.78 530.58,623.74 531.34,620.76 532.09,624.78 533.56,619.41 535.04,625 535.76,621.39 536.47,623.94 537.31,621.97 538.15,624.08 538.66,623.21 539.18,624.03 540.39,618.78 541.6,624.25 543.47,619.56 545.34,624.74 546.5,621.16 547.66,624.55 548.7,622.34 549.74,624.86 550.85,621.19 551.95,624.95 553.43,619.36 554.92,623.81 555.8,622.38 556.68,624.59 557.23,622.45 557.79,624.81 558.4,621.36 559.01,624.94 559.8,620.49 560.58,624.69 561.4,621.64 562.22,624.45 562.74,623.21 563.27,624.36 564.28,620.92 565.29,623.77 565.87,621.53 566.44,624.44 567.15,622.94 567.85,624.41 569.04,620.45 570.22,624.41 571.05,621.95 571.89,624.62 572.65,622.19 573.42,623.72 574.27,620.57 575.12,624.56 576.16,623.11 577.21,623.87 578.25,622.32 579.3,624.1 580.05,621.43 580.81,624.08 581.84,622.55 582.88,624.1 583.84,622.52 584.79,624.25 585.47,623.34 586.14,624.13 587.1,622.02 588.05,623.96 589.07,622.36 590.08,623.92 591.19,622.35 592.3,624.11 593.16,620.52 594.03,624.31 595.18,622.89 596.34,624.38 597.35,621.35 598.36,624.78 599.33,621.09 600.29,624.45 601.24,621.55 602.18,624.06 602.99,623.29 603.8,624.15 604.74,622.73 605.69,624.95 606.22,622 606.76,624.83 607.4,622.45 608.03,624.95 608.96,622.01 609.89,624.23 610.39,622.68 610.89,624.47 611.47,622.56 612.05,623.92 612.96,619 613.86,624.29 615.03,622.38 616.2,623.94 617.15,622.15 618.1,624.52 619,622.96 619.89,623.76 620.64,620.54 621.38,623.84 622.87,619.06 624.36,624.82 625.13,621.53 625.89,624.44 627.07,622.71 628.25,624.51 629.17,620.56 630.08,624.66 630.88,620.51 631.67,624.59 632.37,620.5 633.07,624.38 633.88,623.02 634.69,624.62 635.2,621.09 635.71,624.31 636.75,622.57 637.8,624.68 638.99,622.59 640.19,624.62 641.14,621.6 642.09,624.21 643.22,618.81 644.36,624.31 645.23,622.39 646.1,624.4 647.02,622.32 647.93,624.95 649.07,622.64 650.21,623.85 651.49,618.79 652.77,624.25 653.61,621.3 654.45,623.81 655.54,622.25 656.64,624.74 657.19,622.51 657.73,623.91 658.43,621.34 659.13,623.99 659.97,620.71 660.8,624.29 661.41,621.92 662.02,624.24 663.74,619.5 665.45,623.97 667.35,618.86 669.25,623.7 670.29,618.71 671.34,624.16 671.93,620.59 672.53,624.62 673.45,620.69 674.38,624.46 674.91,622.9 675.44,624.86 676.89,619.73 678.33,624.03 679.13,620.81 679.93,624.59 681.09,621.62 682.25,624.51 682.85,623.21 683.46,624.18 684.35,621.9 685.24,624.19 685.91,622.61 686.59,624.02 687.26,621.86 687.92,624.52 688.92,621.22 689.92,624.15 690.48,623.13 691.05,624.84 692.16,621.64 693.27,624.38 693.79,622.43 694.32,624.06 695.48,623.22 696.65,624.11 698.19,618.54 699.74,623.93 700.49,622.97 701.23,624.69 701.98,622.4 702.72,624.5 703.68,622.98 704.63,623.95 705.49,622.11 706.35,624.23 707.13,621.7 707.91,624.87 708.44,623.28 708.96,623.84 709.46,621.97 709.96,624.39 710.76,620.77 711.56,624.39 712.17,623.08 712.79,624.51 713.39,622.25 714,624.67 714.7,622.56 715.4,624.69 716.61,618.6 717.83,623.78 718.66,621.36 719.49,623.77 720.19,623.03 720.9,624.12 721.54,621.24 722.18,624.97 724.07,619.28 725.96,624.53 726.66,622.46 727.35,624.05 728.02,621.28 728.69,624.13 729.49,620.62 730.29,623.73 731.55,618.79 732.81,624.94 733.68,621.77 734.54,624.54 735.89,618.63 737.24,623.78 737.77,623.22 738.31,624.48 739.1,623.2 739.88,624.6 740.88,618.54 741.88,624.34 742.44,622.2 743,624.59 744.15,623.06 745.29,624.22 745.8,620.87 746.31,624.3 747.08,621.95 747.84,624.19 748.56,621.25 749.27,624.42 749.85,620.96 750.43,624.59 751.51,623.12 752.58,624.59 753.48,619.48 754.37,624.44 754.91,621.69 755.46,624.09 756.16,623.23 756.86,624.51 757.58,623.09 758.3,624.02 759.25,621.75 760.21,624.01 761.28,621.69 762.36,624.15 763.35,620.58 764.34,624.65 764.93,621 765.52,624.91 766.49,622.88 767.47,624.63 768.36,623.19 769.25,624.96 770,623.23 770.75,623.88 771.41,620.6 772.07,624.44 772.58,622.31 772.3,624.24 772.3,625" fill="#5a9f45"/>
<rect x="512.8" y="631" width="259.5" height="9.2" fill="#558a31"/>
<polygon points="492,623.3 512.8,623.3 512.8,640.2 772.3,640.2 772.3,623.3 779.4,623.3 779.4,654.1 505.7,654.1 505.7,627.4 492,627.4" fill="#d8d8d8" stroke="#1a1a1a" stroke-width="1.6"/>
<circle cx="512.8" cy="647.1" r="1.25" fill="#f2f2f2" stroke="#7a7a7a" stroke-width="0.7"/>
<circle cx="520.3" cy="647.1" r="1.25" fill="#f2f2f2" stroke="#7a7a7a" stroke-width="0.7"/>
<circle cx="527.8" cy="647.1" r="1.25" fill="#f2f2f2" stroke="#7a7a7a" stroke-width="0.7"/>
<circle cx="535.3" cy="647.1" r="1.25" fill="#f2f2f2" stroke="#7a7a7a" stroke-width="0.7"/>
<circle cx="557.06" cy="647.1" r="1.25" fill="#f2f2f2" stroke="#7a7a7a" stroke-width="0.7"/>
<circle cx="564.56" cy="647.1" r="1.25" fill="#f2f2f2" stroke="#7a7a7a" stroke-width="0.7"/>
<circle cx="572.06" cy="647.1" r="1.25" fill="#f2f2f2" stroke="#7a7a7a" stroke-width="0.7"/>
<circle cx="579.56" cy="647.1" r="1.25" fill="#f2f2f2" stroke="#7a7a7a" stroke-width="0.7"/>
<circle cx="601.32" cy="647.1" r="1.25" fill="#f2f2f2" stroke="#7a7a7a" stroke-width="0.7"/>
<circle cx="608.82" cy="647.1" r="1.25" fill="#f2f2f2" stroke="#7a7a7a" stroke-width="0.7"/>
<circle cx="616.32" cy="647.1" r="1.25" fill="#f2f2f2" stroke="#7a7a7a" stroke-width="0.7"/>
<circle cx="623.82" cy="647.1" r="1.25" fill="#f2f2f2" stroke="#7a7a7a" stroke-width="0.7"/>
<circle cx="645.58" cy="647.1" r="1.25" fill="#f2f2f2" stroke="#7a7a7a" stroke-width="0.7"/>
<circle cx="653.08" cy="647.1" r="1.25" fill="#f2f2f2" stroke="#7a7a7a" stroke-width="0.7"/>
<circle cx="660.58" cy="647.1" r="1.25" fill="#f2f2f2" stroke="#7a7a7a" stroke-width="0.7"/>
<circle cx="668.08" cy="647.1" r="1.25" fill="#f2f2f2" stroke="#7a7a7a" stroke-width="0.7"/>
<circle cx="689.84" cy="647.1" r="1.25" fill="#f2f2f2" stroke="#7a7a7a" stroke-width="0.7"/>
<circle cx="697.34" cy="647.1" r="1.25" fill="#f2f2f2" stroke="#7a7a7a" stroke-width="0.7"/>
<circle cx="704.84" cy="647.1" r="1.25" fill="#f2f2f2" stroke="#7a7a7a" stroke-width="0.7"/>
<circle cx="712.34" cy="647.1" r="1.25" fill="#f2f2f2" stroke="#7a7a7a" stroke-width="0.7"/>
<circle cx="734.1" cy="647.1" r="1.25" fill="#f2f2f2" stroke="#7a7a7a" stroke-width="0.7"/>
<circle cx="741.6" cy="647.1" r="1.25" fill="#f2f2f2" stroke="#7a7a7a" stroke-width="0.7"/>
<circle cx="749.1" cy="647.1" r="1.25" fill="#f2f2f2" stroke="#7a7a7a" stroke-width="0.7"/>
<circle cx="756.6" cy="647.1" r="1.25" fill="#f2f2f2" stroke="#7a7a7a" stroke-width="0.7"/>
<polygon points="849.8,448.8 893.5,448.8 847.6,552.9 780.6,635.1 779.4,636 779.4,624 772.3,624 766.7,624.3 749.5,614.3" fill="#fff" stroke="#2a2a2a" stroke-width="1.2"/>
<polyline points="773.5,621 803.9,578.1" fill="none" stroke="#2e2e2e" stroke-width="4.6" stroke-linejoin="miter"/>
<polyline points="773.5,621 803.9,578.1" fill="none" stroke="#fff" stroke-width="2.8" stroke-linejoin="miter"/>
<line x1="773.5" y1="621" x2="775.23" y2="618.55" stroke="#444" stroke-width="4.6"/>
<line x1="803.9" y1="578.1" x2="802.17" y2="580.55" stroke="#444" stroke-width="4.6"/>
<polyline points="792.4,560.3 824.8,545.7 850,503.8" fill="none" stroke="#2e2e2e" stroke-width="4.6" stroke-linejoin="miter"/>
<polyline points="792.4,560.3 824.8,545.7 850,503.8" fill="none" stroke="#fff" stroke-width="2.8" stroke-linejoin="miter"/>
<line x1="792.4" y1="560.3" x2="795.14" y2="559.07" stroke="#444" stroke-width="4.6"/>
<line x1="850" y1="503.8" x2="848.45" y2="506.37" stroke="#444" stroke-width="4.6"/>
<line x1="824.8" y1="545.7" x2="821.88" y2="547.01" stroke="#444" stroke-width="4.6"/>
<polyline points="838.4,484.9 870.9,471.3 889.7,443" fill="none" stroke="#2e2e2e" stroke-width="4.6" stroke-linejoin="miter"/>
<polyline points="838.4,484.9 870.9,471.3 889.7,443" fill="none" stroke="#fff" stroke-width="2.8" stroke-linejoin="miter"/>
<line x1="838.4" y1="484.9" x2="841.17" y2="483.74" stroke="#444" stroke-width="4.6"/>
<line x1="889.7" y1="443" x2="888.04" y2="445.5" stroke="#444" stroke-width="4.6"/>
<line x1="870.9" y1="471.3" x2="867.95" y2="472.54" stroke="#444" stroke-width="4.6"/>
<circle cx="809.3" cy="538.8" r="3.2" fill="#000"/>
<circle cx="860.6" cy="475.6" r="3.2" fill="#000"/>
<line x1="698.6" y1="465.9" x2="809.3" y2="538.8" stroke="#8a8a8a" stroke-width="0.8"/>
<line x1="810.4" y1="351.9" x2="860.6" y2="475.6" stroke="#8a8a8a" stroke-width="0.8"/>
<line x1="1191.3" y1="328.7" x2="1120" y2="440" stroke="#8a8a8a" stroke-width="0.8"/>
<circle cx="1120" cy="440" r="3" fill="#000"/>
<line x1="1390.5" y1="403.8" x2="1288.7" y2="487.7" stroke="#8a8a8a" stroke-width="0.8"/>
<circle cx="1289" cy="488" r="3" fill="#000"/>
<circle cx="1288.2" cy="577.7" r="3.1" fill="#000"/>
<line x1="1288.2" y1="577.7" x2="1413.2" y2="532" stroke="#8a8a8a" stroke-width="0.8"/>
<circle cx="1301.4" cy="783.8" r="3.1" fill="#000"/>
<line x1="1301.4" y1="783.8" x2="1425.3" y2="738.5" stroke="#8a8a8a" stroke-width="0.8"/>
<path d="M1337,483.4 L1310,483.4 C1298,483.4 1292,471.4 1281.3,471.4 C1271,471.4 1264,483.4 1252.9,483.4 L1227,483.4" fill="none" stroke="#5CC0EC" stroke-width="3.8" stroke-dasharray="11.5 2"/>
<polyline points="1237.3,474.3 1226,483.4 1237.3,492.9" fill="none" stroke="#5CC0EC" stroke-width="3.2" stroke-linejoin="miter"/>
<path d="M1337,608.1 L1310,608.1 C1298,608.1 1292,596.1 1281.3,596.1 C1271,596.1 1264,608.1 1252.9,608.1 L1227,608.1" fill="none" stroke="#5CC0EC" stroke-width="3.8" stroke-dasharray="11.5 2"/>
<polyline points="1237.3,599 1226,608.1 1237.3,617.6" fill="none" stroke="#5CC0EC" stroke-width="3.2" stroke-linejoin="miter"/>
<path d="M1337,751.5 L1310,751.5 C1298,751.5 1292,739.5 1281.3,739.5 C1271,739.5 1264,751.5 1252.9,751.5 L1227,751.5" fill="none" stroke="#5CC0EC" stroke-width="3.8" stroke-dasharray="11.5 2"/>
<polyline points="1237.3,742.4 1226,751.5 1237.3,761" fill="none" stroke="#5CC0EC" stroke-width="3.2" stroke-linejoin="miter"/>
<path d="M465.4,669 L481,669 C497,669 506,657 520,657 C533,657 537,669 548,669 L575,669" fill="none" stroke="#5CC0EC" stroke-width="3.8" stroke-dasharray="11.5 2"/>
<polyline points="565.4,659.9 576.4,669 565.4,678.5" fill="none" stroke="#5CC0EC" stroke-width="3.2" stroke-linejoin="miter"/>
<path d="M885,509.4 L836,494 C826.5,491 823,485 822.6,476 L820.6,455" fill="none" stroke="#E84848" stroke-width="3.7" stroke-dasharray="13.5 1.6"/>
<polyline points="811.4,465.5 820.6,454.2 831.2,463.6" fill="none" stroke="#E84848" stroke-width="3.4" stroke-linejoin="miter"/>
<path d="M836.3,580.9 L787.3,565.5 C777.8,562.5 774.3,556.5 773.9,547.5 L771.9,526.5" fill="none" stroke="#E84848" stroke-width="3.7" stroke-dasharray="13.5 1.6"/>
<polyline points="762.7,537 771.9,525.7 782.5,535.1" fill="none" stroke="#E84848" stroke-width="3.4" stroke-linejoin="miter"/>
<path d="M755.6,670 L770,670.3 C786,670 793,667 798,659 L812.4,636.5" fill="none" stroke="#E84848" stroke-width="3.7" stroke-dasharray="13.5 1.6"/>
<polyline points="799.3,641.4 812.7,636 815.9,649.7" fill="none" stroke="#E84848" stroke-width="3.4" stroke-linejoin="miter"/>
<path d="M928.1,611 L914.8,611 C890,611 886,598 882.6,581" fill="none" stroke="#E84848" stroke-width="3.7" stroke-dasharray="13.5 1.6"/>
<polyline points="873.8,591.4 882.6,580.4 893.3,590" fill="none" stroke="#E84848" stroke-width="3.4" stroke-linejoin="miter"/>
<path d="M928.1,745 L914.8,745 C890,745 886,732 882.6,715" fill="none" stroke="#E84848" stroke-width="3.7" stroke-dasharray="13.5 1.6"/>
<polyline points="873.8,725.4 882.6,714.4 893.3,724" fill="none" stroke="#E84848" stroke-width="3.4" stroke-linejoin="miter"/></svg>
</body></html>
